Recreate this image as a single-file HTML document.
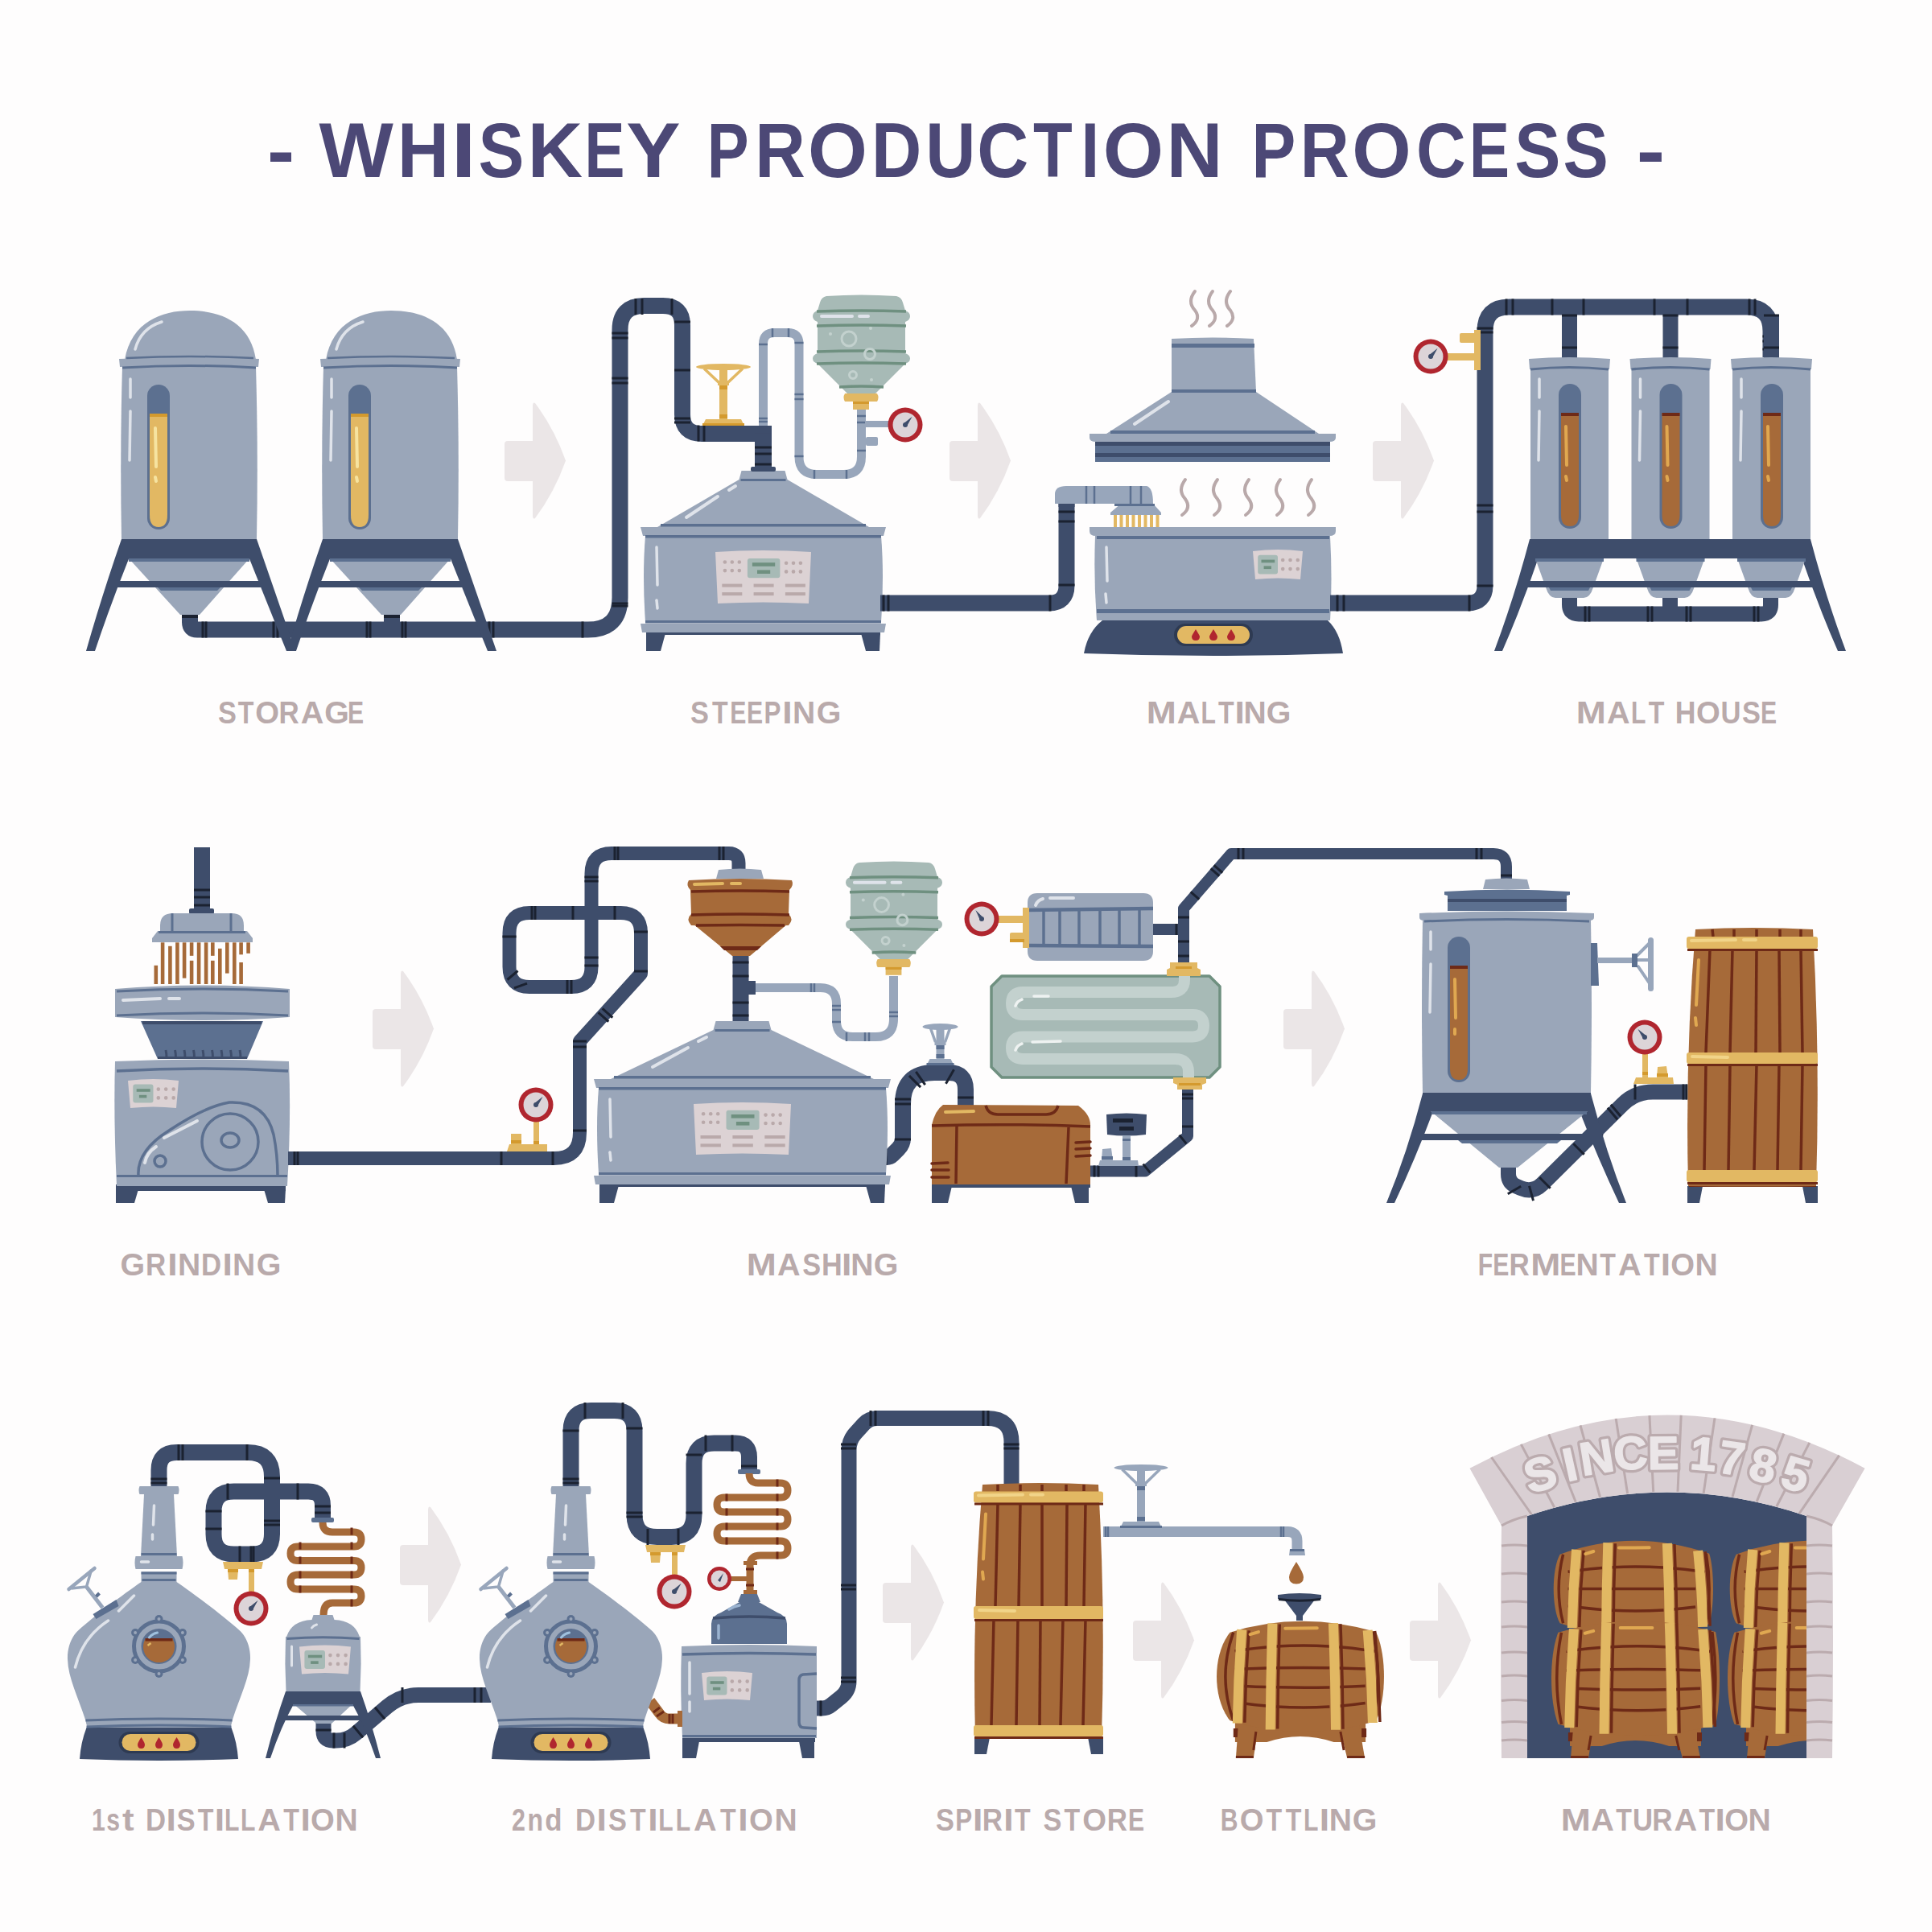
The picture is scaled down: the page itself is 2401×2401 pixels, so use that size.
<!DOCTYPE html><html><head><meta charset="utf-8"><style>
html,body{margin:0;padding:0;background:#fefdfd;}
svg{display:block;font-family:"Liberation Sans",sans-serif;}
</style></head><body>
<svg width="2401" height="2401" viewBox="0 0 2401 2401">
<rect width="2401" height="2401" fill="#fefdfd"/>
<text transform="translate(332.01 220.00) scale(1.067 1)" font-size="95.93" font-weight="bold" fill="#4c4876">-</text>
<text transform="translate(396.40 220.00) scale(1.019 1)" font-size="95.93" font-weight="bold" fill="#4c4876">W</text>
<text transform="translate(494.07 220.00) scale(0.922 1)" font-size="95.93" font-weight="bold" fill="#4c4876">H</text>
<text transform="translate(560.67 220.00) scale(1.150 1)" font-size="95.93" font-weight="bold" fill="#4c4876">I</text>
<text transform="translate(594.53 220.00) scale(0.888 1)" font-size="95.93" font-weight="bold" fill="#4c4876">S</text>
<text transform="translate(655.66 220.00) scale(0.986 1)" font-size="95.93" font-weight="bold" fill="#4c4876">K</text>
<text transform="translate(726.50 220.00) scale(0.780 1)" font-size="95.93" font-weight="bold" fill="#4c4876">E</text>
<text transform="translate(778.28 220.00) scale(1.052 1)" font-size="95.93" font-weight="bold" fill="#4c4876">Y</text>
<text transform="translate(878.79 220.00) scale(0.810 1)" font-size="95.93" font-weight="bold" fill="#4c4876">P</text>
<text transform="translate(938.19 220.00) scale(0.904 1)" font-size="95.93" font-weight="bold" fill="#4c4876">R</text>
<text transform="translate(1004.11 220.00) scale(0.990 1)" font-size="95.93" font-weight="bold" fill="#4c4876">O</text>
<text transform="translate(1083.03 220.00) scale(0.898 1)" font-size="95.93" font-weight="bold" fill="#4c4876">D</text>
<text transform="translate(1150.14 220.00) scale(0.897 1)" font-size="95.93" font-weight="bold" fill="#4c4876">U</text>
<text transform="translate(1214.36 220.00) scale(0.924 1)" font-size="95.93" font-weight="bold" fill="#4c4876">C</text>
<text transform="translate(1284.12 220.00) scale(0.832 1)" font-size="95.93" font-weight="bold" fill="#4c4876">T</text>
<text transform="translate(1343.56 220.00) scale(0.847 1)" font-size="95.93" font-weight="bold" fill="#4c4876">I</text>
<text transform="translate(1370.73 220.00) scale(1.009 1)" font-size="95.93" font-weight="bold" fill="#4c4876">O</text>
<text transform="translate(1449.51 220.00) scale(1.011 1)" font-size="95.93" font-weight="bold" fill="#4c4876">N</text>
<text transform="translate(1555.50 220.00) scale(0.856 1)" font-size="95.93" font-weight="bold" fill="#4c4876">P</text>
<text transform="translate(1615.85 220.00) scale(0.880 1)" font-size="95.93" font-weight="bold" fill="#4c4876">R</text>
<text transform="translate(1680.13 220.00) scale(0.984 1)" font-size="95.93" font-weight="bold" fill="#4c4876">O</text>
<text transform="translate(1760.10 220.00) scale(0.891 1)" font-size="95.93" font-weight="bold" fill="#4c4876">C</text>
<text transform="translate(1826.05 220.00) scale(0.780 1)" font-size="95.93" font-weight="bold" fill="#4c4876">E</text>
<text transform="translate(1882.22 220.00) scale(0.893 1)" font-size="95.93" font-weight="bold" fill="#4c4876">S</text>
<text transform="translate(1942.56 220.00) scale(0.879 1)" font-size="95.93" font-weight="bold" fill="#4c4876">S</text>
<text transform="translate(2033.85 220.00) scale(1.108 1)" font-size="95.93" font-weight="bold" fill="#4c4876">-</text>
<text transform="translate(271.00 898.60) scale(0.888 1)" font-size="38.66" font-weight="bold" fill="#b9aaab">S</text>
<text transform="translate(295.81 898.60) scale(0.832 1)" font-size="38.66" font-weight="bold" fill="#b9aaab">T</text>
<text transform="translate(317.14 898.60) scale(0.990 1)" font-size="38.66" font-weight="bold" fill="#b9aaab">O</text>
<text transform="translate(346.57 898.60) scale(0.904 1)" font-size="38.66" font-weight="bold" fill="#b9aaab">R</text>
<text transform="translate(373.68 898.60) scale(1.025 1)" font-size="38.66" font-weight="bold" fill="#b9aaab">A</text>
<text transform="translate(403.26 898.60) scale(1.019 1)" font-size="38.66" font-weight="bold" fill="#b9aaab">G</text>
<text transform="translate(432.06 898.60) scale(0.780 1)" font-size="38.66" font-weight="bold" fill="#b9aaab">E</text>
<text transform="translate(858.00 898.60) scale(0.888 1)" font-size="38.66" font-weight="bold" fill="#b9aaab">S</text>
<text transform="translate(885.05 898.60) scale(0.832 1)" font-size="38.66" font-weight="bold" fill="#b9aaab">T</text>
<text transform="translate(907.17 898.60) scale(0.780 1)" font-size="38.66" font-weight="bold" fill="#b9aaab">E</text>
<text transform="translate(927.93 898.60) scale(0.780 1)" font-size="38.66" font-weight="bold" fill="#b9aaab">E</text>
<text transform="translate(949.61 898.60) scale(0.811 1)" font-size="38.66" font-weight="bold" fill="#b9aaab">P</text>
<text transform="translate(972.34 898.60) scale(1.150 1)" font-size="38.66" font-weight="bold" fill="#b9aaab">I</text>
<text transform="translate(984.96 898.60) scale(1.011 1)" font-size="38.66" font-weight="bold" fill="#b9aaab">N</text>
<text transform="translate(1014.78 898.60) scale(1.019 1)" font-size="38.66" font-weight="bold" fill="#b9aaab">G</text>
<text transform="translate(1424.71 898.60) scale(1.150 1)" font-size="38.66" font-weight="bold" fill="#b9aaab">M</text>
<text transform="translate(1462.72 898.60) scale(1.025 1)" font-size="38.66" font-weight="bold" fill="#b9aaab">A</text>
<text transform="translate(1492.53 898.60) scale(0.780 1)" font-size="38.66" font-weight="bold" fill="#b9aaab">L</text>
<text transform="translate(1513.91 898.60) scale(0.832 1)" font-size="38.66" font-weight="bold" fill="#b9aaab">T</text>
<text transform="translate(1534.50 898.60) scale(1.150 1)" font-size="38.66" font-weight="bold" fill="#b9aaab">I</text>
<text transform="translate(1545.54 898.60) scale(1.011 1)" font-size="38.66" font-weight="bold" fill="#b9aaab">N</text>
<text transform="translate(1573.78 898.60) scale(1.019 1)" font-size="38.66" font-weight="bold" fill="#b9aaab">G</text>
<text transform="translate(1958.71 898.60) scale(1.150 1)" font-size="38.66" font-weight="bold" fill="#b9aaab">M</text>
<text transform="translate(1996.96 898.60) scale(1.025 1)" font-size="38.66" font-weight="bold" fill="#b9aaab">A</text>
<text transform="translate(2027.01 898.60) scale(0.780 1)" font-size="38.66" font-weight="bold" fill="#b9aaab">L</text>
<text transform="translate(2048.63 898.60) scale(0.832 1)" font-size="38.66" font-weight="bold" fill="#b9aaab">T</text>
<text transform="translate(2081.74 898.60) scale(0.922 1)" font-size="38.66" font-weight="bold" fill="#b9aaab">H</text>
<text transform="translate(2108.02 898.60) scale(0.990 1)" font-size="38.66" font-weight="bold" fill="#b9aaab">O</text>
<text transform="translate(2138.61 898.60) scale(0.896 1)" font-size="38.66" font-weight="bold" fill="#b9aaab">U</text>
<text transform="translate(2165.02 898.60) scale(0.888 1)" font-size="38.66" font-weight="bold" fill="#b9aaab">S</text>
<text transform="translate(2188.06 898.60) scale(0.780 1)" font-size="38.66" font-weight="bold" fill="#b9aaab">E</text>
<text transform="translate(149.38 1584.60) scale(1.019 1)" font-size="38.66" font-weight="bold" fill="#b9aaab">G</text>
<text transform="translate(181.05 1584.60) scale(0.904 1)" font-size="38.66" font-weight="bold" fill="#b9aaab">R</text>
<text transform="translate(208.37 1584.60) scale(1.150 1)" font-size="38.66" font-weight="bold" fill="#b9aaab">I</text>
<text transform="translate(220.94 1584.60) scale(1.011 1)" font-size="38.66" font-weight="bold" fill="#b9aaab">N</text>
<text transform="translate(250.01 1584.60) scale(0.898 1)" font-size="38.66" font-weight="bold" fill="#b9aaab">D</text>
<text transform="translate(276.44 1584.60) scale(1.150 1)" font-size="38.66" font-weight="bold" fill="#b9aaab">I</text>
<text transform="translate(289.01 1584.60) scale(1.011 1)" font-size="38.66" font-weight="bold" fill="#b9aaab">N</text>
<text transform="translate(318.78 1584.60) scale(1.019 1)" font-size="38.66" font-weight="bold" fill="#b9aaab">G</text>
<text transform="translate(927.71 1584.60) scale(1.150 1)" font-size="38.66" font-weight="bold" fill="#b9aaab">M</text>
<text transform="translate(966.03 1584.60) scale(1.025 1)" font-size="38.66" font-weight="bold" fill="#b9aaab">A</text>
<text transform="translate(997.19 1584.60) scale(0.888 1)" font-size="38.66" font-weight="bold" fill="#b9aaab">S</text>
<text transform="translate(1020.93 1584.60) scale(0.922 1)" font-size="38.66" font-weight="bold" fill="#b9aaab">H</text>
<text transform="translate(1045.88 1584.60) scale(1.150 1)" font-size="38.66" font-weight="bold" fill="#b9aaab">I</text>
<text transform="translate(1057.23 1584.60) scale(1.011 1)" font-size="38.66" font-weight="bold" fill="#b9aaab">N</text>
<text transform="translate(1085.78 1584.60) scale(1.019 1)" font-size="38.66" font-weight="bold" fill="#b9aaab">G</text>
<text transform="translate(1836.65 1584.60) scale(0.780 1)" font-size="38.66" font-weight="bold" fill="#b9aaab">F</text>
<text transform="translate(1855.20 1584.60) scale(0.780 1)" font-size="38.66" font-weight="bold" fill="#b9aaab">E</text>
<text transform="translate(1875.38 1584.60) scale(0.904 1)" font-size="38.66" font-weight="bold" fill="#b9aaab">R</text>
<text transform="translate(1902.17 1584.60) scale(1.150 1)" font-size="38.66" font-weight="bold" fill="#b9aaab">M</text>
<text transform="translate(1938.48 1584.60) scale(0.780 1)" font-size="38.66" font-weight="bold" fill="#b9aaab">E</text>
<text transform="translate(1958.39 1584.60) scale(1.011 1)" font-size="38.66" font-weight="bold" fill="#b9aaab">N</text>
<text transform="translate(1988.22 1584.60) scale(0.832 1)" font-size="38.66" font-weight="bold" fill="#b9aaab">T</text>
<text transform="translate(2011.11 1584.60) scale(1.025 1)" font-size="38.66" font-weight="bold" fill="#b9aaab">A</text>
<text transform="translate(2042.93 1584.60) scale(0.832 1)" font-size="38.66" font-weight="bold" fill="#b9aaab">T</text>
<text transform="translate(2063.85 1584.60) scale(1.150 1)" font-size="38.66" font-weight="bold" fill="#b9aaab">I</text>
<text transform="translate(2076.26 1584.60) scale(0.990 1)" font-size="38.66" font-weight="bold" fill="#b9aaab">O</text>
<text transform="translate(2106.40 1584.60) scale(1.011 1)" font-size="38.66" font-weight="bold" fill="#b9aaab">N</text>
<text transform="translate(113.94 2274.60) scale(0.780 1)" font-size="38.66" font-weight="bold" fill="#b9aaab">1</text>
<text transform="translate(132.37 2274.60) scale(0.780 1)" font-size="38.66" font-weight="bold" fill="#b9aaab">s</text>
<text transform="translate(152.09 2274.60) scale(1.136 1)" font-size="38.66" font-weight="bold" fill="#b9aaab">t</text>
<text transform="translate(181.06 2274.60) scale(0.898 1)" font-size="38.66" font-weight="bold" fill="#b9aaab">D</text>
<text transform="translate(206.48 2274.60) scale(1.150 1)" font-size="38.66" font-weight="bold" fill="#b9aaab">I</text>
<text transform="translate(219.66 2274.60) scale(0.888 1)" font-size="38.66" font-weight="bold" fill="#b9aaab">S</text>
<text transform="translate(245.64 2274.60) scale(0.832 1)" font-size="38.66" font-weight="bold" fill="#b9aaab">T</text>
<text transform="translate(266.75 2274.60) scale(1.150 1)" font-size="38.66" font-weight="bold" fill="#b9aaab">I</text>
<text transform="translate(278.88 2274.60) scale(0.780 1)" font-size="38.66" font-weight="bold" fill="#b9aaab">L</text>
<text transform="translate(299.09 2274.60) scale(0.780 1)" font-size="38.66" font-weight="bold" fill="#b9aaab">L</text>
<text transform="translate(320.34 2274.60) scale(1.025 1)" font-size="38.66" font-weight="bold" fill="#b9aaab">A</text>
<text transform="translate(352.36 2274.60) scale(0.832 1)" font-size="38.66" font-weight="bold" fill="#b9aaab">T</text>
<text transform="translate(373.47 2274.60) scale(1.150 1)" font-size="38.66" font-weight="bold" fill="#b9aaab">I</text>
<text transform="translate(386.07 2274.60) scale(0.990 1)" font-size="38.66" font-weight="bold" fill="#b9aaab">O</text>
<text transform="translate(416.40 2274.60) scale(1.011 1)" font-size="38.66" font-weight="bold" fill="#b9aaab">N</text>
<text transform="translate(635.94 2274.60) scale(0.787 1)" font-size="38.66" font-weight="bold" fill="#b9aaab">2</text>
<text transform="translate(655.38 2274.60) scale(0.826 1)" font-size="38.66" font-weight="bold" fill="#b9aaab">n</text>
<text transform="translate(677.35 2274.60) scale(0.901 1)" font-size="38.66" font-weight="bold" fill="#b9aaab">d</text>
<text transform="translate(715.12 2274.60) scale(0.898 1)" font-size="38.66" font-weight="bold" fill="#b9aaab">D</text>
<text transform="translate(741.62 2274.60) scale(1.150 1)" font-size="38.66" font-weight="bold" fill="#b9aaab">I</text>
<text transform="translate(755.89 2274.60) scale(0.888 1)" font-size="38.66" font-weight="bold" fill="#b9aaab">S</text>
<text transform="translate(782.96 2274.60) scale(0.832 1)" font-size="38.66" font-weight="bold" fill="#b9aaab">T</text>
<text transform="translate(805.15 2274.60) scale(1.150 1)" font-size="38.66" font-weight="bold" fill="#b9aaab">I</text>
<text transform="translate(818.37 2274.60) scale(0.780 1)" font-size="38.66" font-weight="bold" fill="#b9aaab">L</text>
<text transform="translate(839.66 2274.60) scale(0.780 1)" font-size="38.66" font-weight="bold" fill="#b9aaab">L</text>
<text transform="translate(862.00 2274.60) scale(1.025 1)" font-size="38.66" font-weight="bold" fill="#b9aaab">A</text>
<text transform="translate(895.10 2274.60) scale(0.832 1)" font-size="38.66" font-weight="bold" fill="#b9aaab">T</text>
<text transform="translate(917.29 2274.60) scale(1.150 1)" font-size="38.66" font-weight="bold" fill="#b9aaab">I</text>
<text transform="translate(930.99 2274.60) scale(0.990 1)" font-size="38.66" font-weight="bold" fill="#b9aaab">O</text>
<text transform="translate(962.40 2274.60) scale(1.011 1)" font-size="38.66" font-weight="bold" fill="#b9aaab">N</text>
<text transform="translate(1163.00 2274.60) scale(0.888 1)" font-size="38.66" font-weight="bold" fill="#b9aaab">S</text>
<text transform="translate(1187.27 2274.60) scale(0.811 1)" font-size="38.66" font-weight="bold" fill="#b9aaab">P</text>
<text transform="translate(1208.95 2274.60) scale(1.150 1)" font-size="38.66" font-weight="bold" fill="#b9aaab">I</text>
<text transform="translate(1220.81 2274.60) scale(0.904 1)" font-size="38.66" font-weight="bold" fill="#b9aaab">R</text>
<text transform="translate(1247.16 2274.60) scale(1.150 1)" font-size="38.66" font-weight="bold" fill="#b9aaab">I</text>
<text transform="translate(1261.01 2274.60) scale(0.832 1)" font-size="38.66" font-weight="bold" fill="#b9aaab">T</text>
<text transform="translate(1296.60 2274.60) scale(0.888 1)" font-size="38.66" font-weight="bold" fill="#b9aaab">S</text>
<text transform="translate(1322.61 2274.60) scale(0.832 1)" font-size="38.66" font-weight="bold" fill="#b9aaab">T</text>
<text transform="translate(1345.14 2274.60) scale(0.990 1)" font-size="38.66" font-weight="bold" fill="#b9aaab">O</text>
<text transform="translate(1375.77 2274.60) scale(0.904 1)" font-size="38.66" font-weight="bold" fill="#b9aaab">R</text>
<text transform="translate(1402.06 2274.60) scale(0.780 1)" font-size="38.66" font-weight="bold" fill="#b9aaab">E</text>
<text transform="translate(1516.83 2274.60) scale(0.780 1)" font-size="38.66" font-weight="bold" fill="#b9aaab">B</text>
<text transform="translate(1540.66 2274.60) scale(0.990 1)" font-size="38.66" font-weight="bold" fill="#b9aaab">O</text>
<text transform="translate(1573.62 2274.60) scale(0.832 1)" font-size="38.66" font-weight="bold" fill="#b9aaab">T</text>
<text transform="translate(1597.70 2274.60) scale(0.832 1)" font-size="38.66" font-weight="bold" fill="#b9aaab">T</text>
<text transform="translate(1620.09 2274.60) scale(0.780 1)" font-size="38.66" font-weight="bold" fill="#b9aaab">L</text>
<text transform="translate(1639.74 2274.60) scale(1.150 1)" font-size="38.66" font-weight="bold" fill="#b9aaab">I</text>
<text transform="translate(1651.66 2274.60) scale(1.011 1)" font-size="38.66" font-weight="bold" fill="#b9aaab">N</text>
<text transform="translate(1680.78 2274.60) scale(1.019 1)" font-size="38.66" font-weight="bold" fill="#b9aaab">G</text>
<text transform="translate(1939.71 2274.60) scale(1.150 1)" font-size="38.66" font-weight="bold" fill="#b9aaab">M</text>
<text transform="translate(1977.18 2274.60) scale(1.025 1)" font-size="38.66" font-weight="bold" fill="#b9aaab">A</text>
<text transform="translate(2008.13 2274.60) scale(0.832 1)" font-size="38.66" font-weight="bold" fill="#b9aaab">T</text>
<text transform="translate(2029.07 2274.60) scale(0.896 1)" font-size="38.66" font-weight="bold" fill="#b9aaab">U</text>
<text transform="translate(2053.35 2274.60) scale(0.904 1)" font-size="38.66" font-weight="bold" fill="#b9aaab">R</text>
<text transform="translate(2080.58 2274.60) scale(1.025 1)" font-size="38.66" font-weight="bold" fill="#b9aaab">A</text>
<text transform="translate(2111.53 2274.60) scale(0.832 1)" font-size="38.66" font-weight="bold" fill="#b9aaab">T</text>
<text transform="translate(2131.58 2274.60) scale(1.150 1)" font-size="38.66" font-weight="bold" fill="#b9aaab">I</text>
<text transform="translate(2143.13 2274.60) scale(0.990 1)" font-size="38.66" font-weight="bold" fill="#b9aaab">O</text>
<text transform="translate(2172.40 2274.60) scale(1.011 1)" font-size="38.66" font-weight="bold" fill="#b9aaab">N</text>
<g transform="translate(627 501)" fill="#ebe6e7">
<rect x="0" y="47" width="45" height="50" rx="4"/>
<path d="M38 0 Q62 32 76 71.5 Q62 111 38 143 Q35 145 35 139 L35 4 Q35 -2 38 0Z"/>
</g>
<g transform="translate(1180 501)" fill="#ebe6e7">
<rect x="0" y="47" width="45" height="50" rx="4"/>
<path d="M38 0 Q62 32 76 71.5 Q62 111 38 143 Q35 145 35 139 L35 4 Q35 -2 38 0Z"/>
</g>
<g transform="translate(1706 501)" fill="#ebe6e7">
<rect x="0" y="47" width="45" height="50" rx="4"/>
<path d="M38 0 Q62 32 76 71.5 Q62 111 38 143 Q35 145 35 139 L35 4 Q35 -2 38 0Z"/>
</g>
<g transform="translate(463 1207)" fill="#ebe6e7">
<rect x="0" y="47" width="45" height="50" rx="4"/>
<path d="M38 0 Q62 32 76 71.5 Q62 111 38 143 Q35 145 35 139 L35 4 Q35 -2 38 0Z"/>
</g>
<g transform="translate(1595 1207)" fill="#ebe6e7">
<rect x="0" y="47" width="45" height="50" rx="4"/>
<path d="M38 0 Q62 32 76 71.5 Q62 111 38 143 Q35 145 35 139 L35 4 Q35 -2 38 0Z"/>
</g>
<g transform="translate(497 1873)" fill="#ebe6e7">
<rect x="0" y="47" width="45" height="50" rx="4"/>
<path d="M38 0 Q62 32 76 71.5 Q62 111 38 143 Q35 145 35 139 L35 4 Q35 -2 38 0Z"/>
</g>
<g transform="translate(1097 1920)" fill="#ebe6e7">
<rect x="0" y="47" width="45" height="50" rx="4"/>
<path d="M38 0 Q62 32 76 71.5 Q62 111 38 143 Q35 145 35 139 L35 4 Q35 -2 38 0Z"/>
</g>
<g transform="translate(1408 1967)" fill="#ebe6e7">
<rect x="0" y="47" width="45" height="50" rx="4"/>
<path d="M38 0 Q62 32 76 71.5 Q62 111 38 143 Q35 145 35 139 L35 4 Q35 -2 38 0Z"/>
</g>
<g transform="translate(1752 1967)" fill="#ebe6e7">
<rect x="0" y="47" width="45" height="50" rx="4"/>
<path d="M38 0 Q62 32 76 71.5 Q62 111 38 143 Q35 145 35 139 L35 4 Q35 -2 38 0Z"/>
</g>
<path d="M236.0 764.0 L236.0 773.2 Q236.0 782.5 245.2 782.5 L730.5 782.5 Q770.5 782.5 770.5 742.5 L770.5 410.0 Q770.5 380.0 800.5 380.0 L824.0 380.0 Q848.0 380.0 848.0 404.0 L848.0 515.0 Q848.0 539.0 872.0 539.0 L959.0 539.0" fill="none" stroke="#3e4d6b" stroke-width="20" stroke-linejoin="round"/>
<line x1="252.0" y1="772.5" x2="252.0" y2="792.5" stroke="#1b2231" stroke-width="3"/>
<line x1="256.0" y1="772.5" x2="256.0" y2="792.5" stroke="#1b2231" stroke-width="3"/>
<line x1="340.0" y1="772.5" x2="340.0" y2="792.5" stroke="#1b2231" stroke-width="3"/>
<line x1="345.0" y1="772.5" x2="345.0" y2="792.5" stroke="#1b2231" stroke-width="3"/>
<line x1="456.0" y1="772.5" x2="456.0" y2="792.5" stroke="#1b2231" stroke-width="3"/>
<line x1="460.0" y1="772.5" x2="460.0" y2="792.5" stroke="#1b2231" stroke-width="3"/>
<line x1="500.0" y1="772.5" x2="500.0" y2="792.5" stroke="#1b2231" stroke-width="3"/>
<line x1="504.0" y1="772.5" x2="504.0" y2="792.5" stroke="#1b2231" stroke-width="3"/>
<line x1="608.0" y1="772.5" x2="608.0" y2="792.5" stroke="#1b2231" stroke-width="3"/>
<line x1="613.0" y1="772.5" x2="613.0" y2="792.5" stroke="#1b2231" stroke-width="3"/>
<line x1="724.0" y1="772.5" x2="724.0" y2="792.5" stroke="#1b2231" stroke-width="3"/>
<line x1="780.5" y1="750.0" x2="760.5" y2="750.0" stroke="#1b2231" stroke-width="3"/>
<line x1="780.5" y1="753.0" x2="760.5" y2="753.0" stroke="#1b2231" stroke-width="3"/>
<line x1="780.5" y1="470.0" x2="760.5" y2="470.0" stroke="#1b2231" stroke-width="3"/>
<line x1="780.5" y1="476.0" x2="760.5" y2="476.0" stroke="#1b2231" stroke-width="3"/>
<line x1="780.5" y1="414.0" x2="760.5" y2="414.0" stroke="#1b2231" stroke-width="3"/>
<line x1="780.5" y1="420.0" x2="760.5" y2="420.0" stroke="#1b2231" stroke-width="3"/>
<line x1="790.0" y1="371.0" x2="790.0" y2="391.0" stroke="#1b2231" stroke-width="3"/>
<line x1="798.0" y1="371.0" x2="798.0" y2="391.0" stroke="#1b2231" stroke-width="3"/>
<line x1="835.0" y1="371.0" x2="835.0" y2="391.0" stroke="#1b2231" stroke-width="3"/>
<line x1="858.0" y1="400.0" x2="838.0" y2="400.0" stroke="#1b2231" stroke-width="3"/>
<line x1="858.0" y1="460.0" x2="838.0" y2="460.0" stroke="#1b2231" stroke-width="3"/>
<line x1="858.0" y1="520.0" x2="838.0" y2="520.0" stroke="#1b2231" stroke-width="3"/>
<line x1="858.0" y1="525.0" x2="838.0" y2="525.0" stroke="#1b2231" stroke-width="3"/>
<line x1="868.0" y1="528.5" x2="868.0" y2="548.5" stroke="#1b2231" stroke-width="3"/>
<line x1="875.0" y1="528.5" x2="875.0" y2="548.5" stroke="#1b2231" stroke-width="3"/>
<path d="M151 670 Q126 742 107 809 L118 809 Q137 752 161 692 Z" fill="#3e4d6b"/>
<path d="M319 670 Q344 742 367 809 L356 809 Q333 752 309 692 Z" fill="#3e4d6b"/>
<path d="M160 694 L310 694 L248 764 L224 764 Z" fill="#9aa6b9"/>
<rect x="160" y="694" width="150" height="4" fill="#5c7090"/>
<path d="M196 730 L274 730 L270 734 L200 734 Z" fill="#5c7090"/>
<rect x="145" y="722" width="180" height="8" fill="#3e4d6b"/>
<rect x="151" y="670" width="168" height="24" fill="#3e4d6b"/>
<path d="M152 455 L318 455 Q321 560 319 670 L151 670 Q149 560 152 455 Z" fill="#9aa6b9"/>
<path d="M155 447 C163 400 201 386 236 386 C273 386 311 400 318 447 Z" fill="#9aa6b9"/>
<path d="M168 434 Q175 408 201 400" fill="none" stroke="#dfe3ea" stroke-width="3.5" stroke-linecap="round"/>
<path d="M148 446 Q236 442 322 446 L321 456 Q236 452 149 456 Z" fill="#9aa6b9"/>
<path d="M157 445 Q236 441 315 445" fill="none" stroke="#5c7090" stroke-width="2.5"/>
<path d="M152 457 Q236 452 318 457" fill="none" stroke="#5c7090" stroke-width="3"/>
<path d="M162 471 L162 494 M162 511 L161 572" stroke="#dfe3ea" stroke-width="3.5" stroke-linecap="round"/>
<rect x="183" y="478" width="28" height="180" rx="14" fill="#5c7090"/>
<path d="M186 514 L208 514 L208 640 Q208 655 197 655 Q186 655 186 640 Z" fill="#e2b863"/>
<rect x="186" y="514" width="22" height="4" fill="#d49a2e"/>
<path d="M193 532 L194 580 M193 593 L194 598" stroke="#f6e3a0" stroke-width="4" stroke-linecap="round"/>
<path d="M401 670 Q376 742 357 809 L368 809 Q387 752 411 692 Z" fill="#3e4d6b"/>
<path d="M569 670 Q594 742 617 809 L606 809 Q583 752 559 692 Z" fill="#3e4d6b"/>
<path d="M410 694 L560 694 L498 764 L474 764 Z" fill="#9aa6b9"/>
<rect x="410" y="694" width="150" height="4" fill="#5c7090"/>
<path d="M446 730 L524 730 L520 734 L450 734 Z" fill="#5c7090"/>
<rect x="395" y="722" width="180" height="8" fill="#3e4d6b"/>
<rect x="401" y="670" width="168" height="24" fill="#3e4d6b"/>
<path d="M402 455 L568 455 Q571 560 569 670 L401 670 Q399 560 402 455 Z" fill="#9aa6b9"/>
<path d="M405 447 C413 400 451 386 486 386 C523 386 561 400 568 447 Z" fill="#9aa6b9"/>
<path d="M418 434 Q425 408 451 400" fill="none" stroke="#dfe3ea" stroke-width="3.5" stroke-linecap="round"/>
<path d="M398 446 Q486 442 572 446 L571 456 Q486 452 399 456 Z" fill="#9aa6b9"/>
<path d="M407 445 Q486 441 565 445" fill="none" stroke="#5c7090" stroke-width="2.5"/>
<path d="M402 457 Q486 452 568 457" fill="none" stroke="#5c7090" stroke-width="3"/>
<path d="M412 471 L412 494 M412 511 L411 572" stroke="#dfe3ea" stroke-width="3.5" stroke-linecap="round"/>
<rect x="433" y="478" width="28" height="180" rx="14" fill="#5c7090"/>
<path d="M436 514 L458 514 L458 640 Q458 655 447 655 Q436 655 436 640 Z" fill="#e2b863"/>
<rect x="436" y="514" width="22" height="4" fill="#d49a2e"/>
<path d="M443 532 L444 580 M443 593 L444 598" stroke="#f6e3a0" stroke-width="4" stroke-linecap="round"/>
<rect x="477" y="764" width="20" height="10" fill="#3e4d6b"/>
<rect x="226" y="764" width="20" height="4" fill="#1b2231"/>
<rect x="477" y="764" width="20" height="4" fill="#1b2231"/>
<path d="M948.5 538.5 L948.5 584.0" fill="none" stroke="#3e4d6b" stroke-width="21" stroke-linejoin="round"/>
<line x1="959.0" y1="556.0" x2="938.0" y2="556.0" stroke="#1b2231" stroke-width="3"/>
<line x1="959.0" y1="564.0" x2="938.0" y2="564.0" stroke="#1b2231" stroke-width="3"/>
<line x1="959.0" y1="577.0" x2="938.0" y2="577.0" stroke="#1b2231" stroke-width="3"/>
<path d="M803.0 787 L827.0 787 L821.0 809 L803.0 809 Z" fill="#3e4d6b"/>
<path d="M1070.0 787 L1094.0 787 L1093.0 809 L1076.0 809 Z" fill="#3e4d6b"/>
<rect x="803.0" y="785" width="291" height="4" fill="#3e4d6b"/>
<path d="M802.0 666 L1095.0 666 Q1099.0 714.0 1095.0 773 L802.0 773 Q798.0 714.0 802.0 666 Z" fill="#9aa6b9"/>
<path d="M796.0 775 L1101.0 775 L1099.0 786 L798.0 786 Z" fill="#9aa6b9"/>
<rect x="802.0" y="771" width="293" height="3.5" fill="#5c7090"/>
<path d="M918.5 596 L978.5 596 L1080.0 655 L817.0 655 Z" fill="#9aa6b9"/>
<rect x="821.0" y="651" width="255" height="3.5" fill="#5c7090"/>
<path d="M921.5 585 L975.5 585 L978.5 596 L918.5 596 Z" fill="#9aa6b9"/>
<rect x="920.5" y="595" width="56" height="3" fill="#5c7090"/>
<path d="M796.0 655 L1101.0 655 L1098.0 666 L799.0 666 Z" fill="#9aa6b9"/>
<rect x="802.0" y="665" width="293" height="3.5" fill="#5c7090"/>
<path d="M816.0 680 L817.0 727" stroke="#dfe3ea" stroke-width="3.5" stroke-linecap="round"/>
<path d="M816.0 746 L817.0 756" stroke="#dfe3ea" stroke-width="3.5" stroke-linecap="round"/>
<path d="M853.0 643 L892.0 617 M906.0 609 L914.0 604" stroke="#dfe3ea" stroke-width="4" stroke-linecap="round"/>
<path d="M889 686 Q948.5 682 1008 686 L1005 750 Q948.5 747 892 750 Z" fill="#dcd2d4"/>
<rect x="928.9" y="693.9" width="40.5" height="24.4" rx="3" fill="#a7bab6"/>
<rect x="934.9" y="699.2" width="28.3" height="4.6" fill="#6f9080"/>
<rect x="941.0" y="708.4" width="16.2" height="4.6" fill="#6f9080"/>
<circle cx="900.9" cy="698.5" r="2.3" fill="#b9a9aa"/>
<circle cx="977.1" cy="699.8" r="2.3" fill="#b9a9aa"/>
<circle cx="900.9" cy="709.1" r="2.3" fill="#b9a9aa"/>
<circle cx="977.1" cy="710.4" r="2.3" fill="#b9a9aa"/>
<circle cx="909.8" cy="698.5" r="2.3" fill="#b9a9aa"/>
<circle cx="986.0" cy="699.8" r="2.3" fill="#b9a9aa"/>
<circle cx="909.8" cy="709.1" r="2.3" fill="#b9a9aa"/>
<circle cx="986.0" cy="710.4" r="2.3" fill="#b9a9aa"/>
<circle cx="918.8" cy="698.5" r="2.3" fill="#b9a9aa"/>
<circle cx="994.9" cy="699.8" r="2.3" fill="#b9a9aa"/>
<circle cx="918.8" cy="709.1" r="2.3" fill="#b9a9aa"/>
<circle cx="994.9" cy="710.4" r="2.3" fill="#b9a9aa"/>
<rect x="897.3" y="725.6" width="25.0" height="4" fill="#b9a9aa"/>
<rect x="897.3" y="736.1" width="25.0" height="4" fill="#b9a9aa"/>
<rect x="936.6" y="725.6" width="25.0" height="4" fill="#b9a9aa"/>
<rect x="936.6" y="736.1" width="25.0" height="4" fill="#b9a9aa"/>
<rect x="975.9" y="725.6" width="25.0" height="4" fill="#b9a9aa"/>
<rect x="975.9" y="736.1" width="25.0" height="4" fill="#b9a9aa"/>
<rect x="933" y="580" width="31" height="6" rx="2" fill="#3e4d6b"/>
<ellipse cx="899" cy="456" rx="34.0" ry="4" fill="#e2b863"/>
<path d="M875.0 458 L893 475 M923.0 458 L905 475" stroke="#e2b863" stroke-width="3.5"/>
<rect x="892" y="473" width="14" height="6" fill="#e2b863"/>
<rect x="894" y="458" width="10" height="69" fill="#e2b863"/>
<rect x="894" y="479" width="10" height="5" fill="#d49a2e"/>
<rect x="894" y="515" width="10" height="5" fill="#d49a2e"/>
<path d="M877.0 521 L921.0 521 L925.0 529 L873.0 529 Z" fill="#e2b863"/>
<rect x="873.0" y="526" width="52" height="3" fill="#d49a2e"/>
<path d="M948.5 531.0 L948.5 427.5 Q948.5 413.5 962.5 413.5 L979.0 413.5 Q993.0 413.5 993.0 427.5 L993.0 567.5 Q993.0 589.5 1015.0 589.5 L1048.5 589.5 Q1070.5 589.5 1070.5 567.5 L1070.5 509.0" fill="none" stroke="#98a6bb" stroke-width="11" stroke-linejoin="round"/>
<line x1="954.0" y1="520.0" x2="943.0" y2="520.0" stroke="#5c7090" stroke-width="2.5"/>
<line x1="954.0" y1="524.0" x2="943.0" y2="524.0" stroke="#5c7090" stroke-width="2.5"/>
<line x1="954.0" y1="428.0" x2="943.0" y2="428.0" stroke="#5c7090" stroke-width="2.5"/>
<line x1="960.0" y1="408.0" x2="960.0" y2="419.0" stroke="#5c7090" stroke-width="2.5"/>
<line x1="980.0" y1="408.0" x2="980.0" y2="419.0" stroke="#5c7090" stroke-width="2.5"/>
<line x1="998.5" y1="426.0" x2="987.5" y2="426.0" stroke="#5c7090" stroke-width="2.5"/>
<line x1="998.5" y1="490.0" x2="987.5" y2="490.0" stroke="#5c7090" stroke-width="2.5"/>
<line x1="998.5" y1="496.0" x2="987.5" y2="496.0" stroke="#5c7090" stroke-width="2.5"/>
<line x1="998.5" y1="567.0" x2="987.5" y2="567.0" stroke="#5c7090" stroke-width="2.5"/>
<line x1="1012.0" y1="584.0" x2="1012.0" y2="595.0" stroke="#5c7090" stroke-width="2.5"/>
<line x1="1052.0" y1="584.0" x2="1052.0" y2="595.0" stroke="#5c7090" stroke-width="2.5"/>
<line x1="1076.0" y1="517.0" x2="1065.0" y2="517.0" stroke="#5c7090" stroke-width="2.5"/>
<line x1="1076.0" y1="525.0" x2="1065.0" y2="525.0" stroke="#5c7090" stroke-width="2.5"/>
<line x1="1076.0" y1="560.0" x2="1065.0" y2="560.0" stroke="#5c7090" stroke-width="2.5"/>
<rect x="938" y="529" width="21" height="5" fill="#3e4d6b"/>
<path d="M1027.0 368.0 Q1070.0 365.0 1114.0 368.0 Q1120.0 369.0 1122.0 376.0 L1125.0 386.0 Q1131.0 388.0 1131.0 393.0 Q1131.0 398.0 1125.0 400.0 L1125.0 439.0 Q1131.0 441.0 1131.0 445.5 Q1131.0 450.0 1125.0 452.0 L1088.0 489.0 L1053.0 489.0 L1016.0 452.0 Q1010.0 450.0 1010.0 445.5 Q1010.0 441.0 1016.0 439.0 L1016.0 400.0 Q1010.0 398.0 1010.0 393.0 Q1010.0 388.0 1016.0 386.0 L1019.0 376.0 Q1021.0 369.0 1027.0 368.0 Z" fill="#a7bab6"/>
<path d="M1015.0 387.0 Q1070.0 385.0 1126.0 387.0" fill="none" stroke="#6f9080" stroke-width="3.5"/>
<path d="M1015.0 405.0 Q1070.0 403.0 1126.0 405.0" fill="none" stroke="#6f9080" stroke-width="3.5"/>
<path d="M1015.0 437.0 Q1070.0 435.0 1126.0 437.0" fill="none" stroke="#6f9080" stroke-width="3.5"/>
<path d="M1015.0 452.0 Q1070.0 450.0 1126.0 452.0" fill="none" stroke="#6f9080" stroke-width="3.5"/>
<path d="M1043.0 481.0 Q1070.0 479.0 1098.0 481.0" fill="none" stroke="#6f9080" stroke-width="3.5"/>
<path d="M1021.0 393.0 L1059.0 393.0 M1068.0 393.0 L1079.0 393.0" stroke="#dfe3ea" stroke-width="4.0" stroke-linecap="round"/>
<circle cx="1055.0" cy="421.0" r="9.0" fill="none" stroke="#c3d1ce" stroke-width="3.0"/>
<circle cx="1081.0" cy="440.0" r="6.5" fill="none" stroke="#c3d1ce" stroke-width="3.0"/>
<circle cx="1060.0" cy="466.0" r="4.5" fill="none" stroke="#c3d1ce" stroke-width="3.0"/>
<circle cx="1032.0" cy="415.0" r="2.0" fill="#c3d1ce"/>
<circle cx="1082.0" cy="408.0" r="2.0" fill="#c3d1ce"/>
<circle cx="1083.0" cy="472.0" r="2.0" fill="#c3d1ce"/>
<path d="M1050.0 489.0 L1090.0 489.0 Q1093.0 494.0 1090.0 499.0 L1050.0 499.0 Q1047.0 494.0 1050.0 489.0 Z" fill="#e2b863"/>
<rect x="1060.0" y="499.0" width="20.0" height="10.0" fill="#e2b863"/>
<rect x="1060.0" y="499.0" width="20.0" height="3.0" fill="#d49a2e"/>
<rect x="1075" y="523" width="30" height="8" fill="#98a6bb"/>
<rect x="1076" y="543" width="15" height="11" rx="2" fill="#98a6bb"/>
<circle cx="1125" cy="528" r="21.5" fill="#b0262f"/>
<circle cx="1125" cy="528" r="15.479999999999999" fill="#dcd4d8"/>
<path d="M1127.0 529.7 L1133.6 517.8 L1123.0 526.3 Z" fill="#3e4d6b"/>
<circle cx="1125" cy="528" r="3" fill="#3e4d6b"/>
<path d="M1325.5 630.0 L1325.5 615.0" fill="none" stroke="#3e4d6b" stroke-width="20" stroke-linejoin="round"/>
<path d="M1311 626 L1311 614 Q1311 604 1325 604 L1425 604 Q1433 606 1433 626 Z" fill="#98a6bb"/>
<path d="M1350 604 L1350 626 M1360 604 L1360 626 M1405 604 L1405 626 M1418 604 L1418 626" stroke="#5c7090" stroke-width="2.5"/>
<path d="M1393 626 L1433 626 L1443 637 L1443 640 L1380 640 L1380 637 Z" fill="#98a6bb"/>
<rect x="1385" y="626" width="50" height="3" fill="#5c7090"/>
<rect x="1384.0" y="640" width="4" height="15" fill="#e2b863"/>
<rect x="1391.5" y="640" width="4" height="15" fill="#e2b863"/>
<rect x="1399.0" y="640" width="4" height="15" fill="#e2b863"/>
<rect x="1406.5" y="640" width="4" height="15" fill="#e2b863"/>
<rect x="1414.0" y="640" width="4" height="15" fill="#e2b863"/>
<rect x="1421.5" y="640" width="4" height="15" fill="#e2b863"/>
<rect x="1429.0" y="640" width="4" height="15" fill="#e2b863"/>
<rect x="1436.5" y="640" width="4" height="15" fill="#e2b863"/>
<path d="M1094.0 749.5 L1303.5 749.5 Q1325.5 749.5 1325.5 727.5 L1325.5 626.0" fill="none" stroke="#3e4d6b" stroke-width="20" stroke-linejoin="round"/>
<line x1="1098.0" y1="739.5" x2="1098.0" y2="759.5" stroke="#1b2231" stroke-width="3"/>
<line x1="1104.0" y1="739.5" x2="1104.0" y2="759.5" stroke="#1b2231" stroke-width="3"/>
<line x1="1305.0" y1="739.5" x2="1305.0" y2="759.5" stroke="#1b2231" stroke-width="3"/>
<line x1="1335.5" y1="636.0" x2="1315.5" y2="636.0" stroke="#1b2231" stroke-width="3"/>
<line x1="1335.5" y1="648.0" x2="1315.5" y2="648.0" stroke="#1b2231" stroke-width="3"/>
<line x1="1335.5" y1="727.0" x2="1315.5" y2="727.0" stroke="#1b2231" stroke-width="3"/>
<path d="M1347 812 Q1352 785 1370 771 L1650 771 Q1665 785 1669 812 Q1508 818 1347 812 Z" fill="#3e4d6b"/>
<rect x="1459" y="775" width="98" height="28" rx="14" fill="#2e3a52"/>
<rect x="1463" y="778" width="90" height="22" rx="11" fill="#e2b863"/>
<path d="M1486 782 Q1481 790 1481 791 Q1481 796 1486 796 Q1491 796 1491 791 Q1491 790 1486 782Z" fill="#b0262f"/>
<path d="M1508 782 Q1503 790 1503 791 Q1503 796 1508 796 Q1513 796 1513 791 Q1513 790 1508 782Z" fill="#b0262f"/>
<path d="M1530 782 Q1525 790 1525 791 Q1525 796 1530 796 Q1535 796 1535 791 Q1535 790 1530 782Z" fill="#b0262f"/>
<path d="M1361 666 L1653 666 Q1656 720 1653 771 L1363 771 Q1359 720 1361 666 Z" fill="#9aa6b9"/>
<rect x="1363" y="757" width="289" height="5" fill="#5c7090"/>
<path d="M1354 655 L1660 655 L1660 660 Q1660 666 1652 666 L1362 666 Q1354 666 1354 660 Z" fill="#9aa6b9"/>
<rect x="1363" y="666" width="289" height="4" fill="#5c7090"/>
<path d="M1375 680 L1376 722 M1374 738 L1375 749" stroke="#dfe3ea" stroke-width="3.5" stroke-linecap="round"/>
<path d="M1557 685 Q1588.0 681 1619 685 L1616 720 Q1588.0 717 1560 720 Z" fill="#dcd2d4"/>
<rect x="1563.2" y="689.7" width="24.8" height="23.7" rx="3" fill="#a7bab6"/>
<rect x="1567.5" y="695.6" width="16.7" height="3.7" fill="#6f9080"/>
<rect x="1570.6" y="703.4" width="9.3" height="3.7" fill="#6f9080"/>
<circle cx="1594.2" cy="696.0" r="2.3" fill="#b9a9aa"/>
<circle cx="1594.2" cy="707.1" r="2.3" fill="#b9a9aa"/>
<circle cx="1603.5" cy="696.0" r="2.3" fill="#b9a9aa"/>
<circle cx="1603.5" cy="707.1" r="2.3" fill="#b9a9aa"/>
<circle cx="1612.8" cy="696.0" r="2.3" fill="#b9a9aa"/>
<circle cx="1612.8" cy="707.1" r="2.3" fill="#b9a9aa"/>
<path d="M1653.0 749.5 L1823.5 749.5 Q1845.5 749.5 1845.5 727.5 L1845.5 411.5 Q1845.5 381.5 1875.5 381.5 L2170.5 381.5 Q2200.5 381.5 2200.5 411.5 L2200.5 444.0" fill="none" stroke="#3e4d6b" stroke-width="20" stroke-linejoin="round"/>
<line x1="1662.0" y1="739.5" x2="1662.0" y2="759.5" stroke="#1b2231" stroke-width="3"/>
<line x1="1670.0" y1="739.5" x2="1670.0" y2="759.5" stroke="#1b2231" stroke-width="3"/>
<line x1="1826.0" y1="739.5" x2="1826.0" y2="759.5" stroke="#1b2231" stroke-width="3"/>
<line x1="1855.5" y1="728.0" x2="1835.5" y2="728.0" stroke="#1b2231" stroke-width="3"/>
<line x1="1855.5" y1="636.0" x2="1835.5" y2="636.0" stroke="#1b2231" stroke-width="3"/>
<line x1="1855.5" y1="628.0" x2="1835.5" y2="628.0" stroke="#1b2231" stroke-width="3"/>
<line x1="1855.5" y1="413.0" x2="1835.5" y2="413.0" stroke="#1b2231" stroke-width="3"/>
<line x1="1855.5" y1="408.0" x2="1835.5" y2="408.0" stroke="#1b2231" stroke-width="3"/>
<line x1="1872.0" y1="371.5" x2="1872.0" y2="391.5" stroke="#1b2231" stroke-width="3"/>
<line x1="1880.0" y1="371.5" x2="1880.0" y2="391.5" stroke="#1b2231" stroke-width="3"/>
<line x1="1929.0" y1="371.5" x2="1929.0" y2="391.5" stroke="#1b2231" stroke-width="3"/>
<line x1="1968.0" y1="371.5" x2="1968.0" y2="391.5" stroke="#1b2231" stroke-width="3"/>
<line x1="2056.0" y1="371.5" x2="2056.0" y2="391.5" stroke="#1b2231" stroke-width="3"/>
<line x1="2097.0" y1="371.5" x2="2097.0" y2="391.5" stroke="#1b2231" stroke-width="3"/>
<line x1="2174.0" y1="371.5" x2="2174.0" y2="391.5" stroke="#1b2231" stroke-width="3"/>
<line x1="2181.0" y1="371.5" x2="2181.0" y2="391.5" stroke="#1b2231" stroke-width="3"/>
<line x1="2210.5" y1="418.0" x2="2190.5" y2="418.0" stroke="#1b2231" stroke-width="3"/>
<line x1="2210.5" y1="424.0" x2="2190.5" y2="424.0" stroke="#1b2231" stroke-width="3"/>
<line x1="2210.5" y1="434.0" x2="2190.5" y2="434.0" stroke="#1b2231" stroke-width="3"/>
<path d="M1456 421 Q1507 418 1558 421 L1561 487 L1456 487 Z" fill="#9aa6b9"/>
<rect x="1456" y="427" width="103" height="5" fill="#5c7090"/>
<path d="M1456 487 L1561 487 L1639 539 L1375 539 Z" fill="#9aa6b9"/>
<rect x="1456" y="484" width="105" height="4" fill="#5c7090"/>
<rect x="1380" y="535" width="254" height="4" fill="#5c7090"/>
<path d="M1410 527 L1452 499" stroke="#dfe3ea" stroke-width="4" stroke-linecap="round"/>
<path d="M1354 539 L1660 539 L1660 544 Q1660 549 1652 549 L1362 549 Q1354 549 1354 544 Z" fill="#9aa6b9"/>
<rect x="1361" y="549" width="292" height="25" fill="#5c7090"/>
<rect x="1361" y="549" width="292" height="5" fill="#3e4d6b"/>
<rect x="1361" y="563" width="292" height="5" fill="#3e4d6b"/>
<path d="M1485 362 Q1475 374.9 1485 385.65 Q1493 396.4 1481 405" fill="none" stroke="#b9a9aa" stroke-width="4" stroke-linecap="round"/>
<path d="M1507 362 Q1497 374.9 1507 385.65 Q1515 396.4 1503 405" fill="none" stroke="#b9a9aa" stroke-width="4" stroke-linecap="round"/>
<path d="M1529 362 Q1519 374.9 1529 385.65 Q1537 396.4 1525 405" fill="none" stroke="#b9a9aa" stroke-width="4" stroke-linecap="round"/>
<path d="M1473 596 Q1463 609.2 1473 620.2 Q1481 631.2 1469 640" fill="none" stroke="#b9a9aa" stroke-width="4" stroke-linecap="round"/>
<path d="M1513 596 Q1503 609.2 1513 620.2 Q1521 631.2 1509 640" fill="none" stroke="#b9a9aa" stroke-width="4" stroke-linecap="round"/>
<path d="M1552 596 Q1542 609.2 1552 620.2 Q1560 631.2 1548 640" fill="none" stroke="#b9a9aa" stroke-width="4" stroke-linecap="round"/>
<path d="M1591 596 Q1581 609.2 1591 620.2 Q1599 631.2 1587 640" fill="none" stroke="#b9a9aa" stroke-width="4" stroke-linecap="round"/>
<path d="M1630 596 Q1620 609.2 1630 620.2 Q1638 631.2 1626 640" fill="none" stroke="#b9a9aa" stroke-width="4" stroke-linecap="round"/>
<path d="M1950.5 391.0 L1950.5 445.0" fill="none" stroke="#3e4d6b" stroke-width="19" stroke-linejoin="round"/>
<line x1="1960.0" y1="392.0" x2="1941.0" y2="392.0" stroke="#1b2231" stroke-width="3"/>
<line x1="1960.0" y1="432.0" x2="1941.0" y2="432.0" stroke="#1b2231" stroke-width="3"/>
<path d="M2076.0 391.0 L2076.0 445.0" fill="none" stroke="#3e4d6b" stroke-width="19" stroke-linejoin="round"/>
<line x1="2085.5" y1="392.0" x2="2066.5" y2="392.0" stroke="#1b2231" stroke-width="3"/>
<line x1="2085.5" y1="432.0" x2="2066.5" y2="432.0" stroke="#1b2231" stroke-width="3"/>
<path d="M2201.5 391.0 L2201.5 445.0" fill="none" stroke="#3e4d6b" stroke-width="19" stroke-linejoin="round"/>
<line x1="2211.0" y1="392.0" x2="2192.0" y2="392.0" stroke="#1b2231" stroke-width="3"/>
<line x1="2211.0" y1="432.0" x2="2192.0" y2="432.0" stroke="#1b2231" stroke-width="3"/>
<path d="M1901 670 Q1882 742 1857 809 L1867 809 Q1892 752 1913 690 Z" fill="#3e4d6b"/>
<path d="M2250 670 Q2269 742 2294 809 L2284 809 Q2259 752 2238 690 Z" fill="#3e4d6b"/>
<path d="M1950.5 740.0 L1950.5 751.5 Q1950.5 763.0 1962.0 763.0 L2189.0 763.0 Q2200.5 763.0 2200.5 751.5 L2200.5 740.0" fill="none" stroke="#3e4d6b" stroke-width="19" stroke-linejoin="round"/>
<line x1="1970.0" y1="753.5" x2="1970.0" y2="772.5" stroke="#1b2231" stroke-width="3"/>
<line x1="1975.0" y1="753.5" x2="1975.0" y2="772.5" stroke="#1b2231" stroke-width="3"/>
<line x1="2048.0" y1="753.5" x2="2048.0" y2="772.5" stroke="#1b2231" stroke-width="3"/>
<line x1="2053.0" y1="753.5" x2="2053.0" y2="772.5" stroke="#1b2231" stroke-width="3"/>
<line x1="2096.0" y1="753.5" x2="2096.0" y2="772.5" stroke="#1b2231" stroke-width="3"/>
<line x1="2101.0" y1="753.5" x2="2101.0" y2="772.5" stroke="#1b2231" stroke-width="3"/>
<line x1="2180.0" y1="753.5" x2="2180.0" y2="772.5" stroke="#1b2231" stroke-width="3"/>
<line x1="2185.0" y1="753.5" x2="2185.0" y2="772.5" stroke="#1b2231" stroke-width="3"/>
<path d="M2075.5 740.0 L2075.5 763.0" fill="none" stroke="#3e4d6b" stroke-width="19" stroke-linejoin="round"/>
<path d="M1908.0 694 L1993.0 694 L1980.0 730 Q1976.0 743 1968.0 743 L1933.0 743 Q1925.0 743 1921.0 730 Z" fill="#9aa6b9"/>
<rect x="1908.0" y="694" width="85" height="4" fill="#5c7090"/>
<path d="M1925.0 730 L1976.0 730 L1974.0 734 L1927.0 734 Z" fill="#5c7090"/>
<path d="M2033.5 694 L2118.5 694 L2105.5 730 Q2101.5 743 2093.5 743 L2058.5 743 Q2050.5 743 2046.5 730 Z" fill="#9aa6b9"/>
<rect x="2033.5" y="694" width="85" height="4" fill="#5c7090"/>
<path d="M2050.5 730 L2101.5 730 L2099.5 734 L2052.5 734 Z" fill="#5c7090"/>
<path d="M2159.0 694 L2244.0 694 L2231.0 730 Q2227.0 743 2219.0 743 L2184.0 743 Q2176.0 743 2172.0 730 Z" fill="#9aa6b9"/>
<rect x="2159.0" y="694" width="85" height="4" fill="#5c7090"/>
<path d="M2176.0 730 L2227.0 730 L2225.0 734 L2178.0 734 Z" fill="#5c7090"/>
<rect x="1896" y="722" width="357" height="8" fill="#3e4d6b"/>
<rect x="1901" y="670" width="349" height="24" fill="#3e4d6b"/>
<path d="M1902.0 459 L1999.0 459 L1999.0 670 L1902.0 670 Z" fill="#9aa6b9"/>
<path d="M1900.0 446 Q1950.0 442 2001.0 446 L2000.0 459 L1901.0 459 Z" fill="#9aa6b9"/>
<path d="M1902.0 459 Q1950.0 454 1999.0 459" fill="none" stroke="#5c7090" stroke-width="3"/>
<path d="M1913.0 471 L1913.0 494 M1913.0 511 L1912.0 572" stroke="#dfe3ea" stroke-width="3.5" stroke-linecap="round"/>
<rect x="1937.0" y="477" width="28" height="180" rx="14" fill="#5c7090"/>
<path d="M1940.0 513 L1962.0 513 L1962.0 640 Q1962.0 654 1951.0 654 Q1940.0 654 1940.0 640 Z" fill="#a66a39"/>
<rect x="1940.0" y="513" width="22" height="4" fill="#6e2a17"/>
<path d="M1946.0 530 L1947.0 578 M1946.0 592 L1947.0 597" stroke="#e0a851" stroke-width="4" stroke-linecap="round"/>
<path d="M2027.5 459 L2124.5 459 L2124.5 670 L2027.5 670 Z" fill="#9aa6b9"/>
<path d="M2025.5 446 Q2075.5 442 2126.5 446 L2125.5 459 L2026.5 459 Z" fill="#9aa6b9"/>
<path d="M2027.5 459 Q2075.5 454 2124.5 459" fill="none" stroke="#5c7090" stroke-width="3"/>
<path d="M2038.5 471 L2038.5 494 M2038.5 511 L2037.5 572" stroke="#dfe3ea" stroke-width="3.5" stroke-linecap="round"/>
<rect x="2062.5" y="477" width="28" height="180" rx="14" fill="#5c7090"/>
<path d="M2065.5 513 L2087.5 513 L2087.5 640 Q2087.5 654 2076.5 654 Q2065.5 654 2065.5 640 Z" fill="#a66a39"/>
<rect x="2065.5" y="513" width="22" height="4" fill="#6e2a17"/>
<path d="M2071.5 530 L2072.5 578 M2071.5 592 L2072.5 597" stroke="#e0a851" stroke-width="4" stroke-linecap="round"/>
<path d="M2153.0 459 L2250.0 459 L2250.0 670 L2153.0 670 Z" fill="#9aa6b9"/>
<path d="M2151.0 446 Q2201.0 442 2252.0 446 L2251.0 459 L2152.0 459 Z" fill="#9aa6b9"/>
<path d="M2153.0 459 Q2201.0 454 2250.0 459" fill="none" stroke="#5c7090" stroke-width="3"/>
<path d="M2164.0 471 L2164.0 494 M2164.0 511 L2163.0 572" stroke="#dfe3ea" stroke-width="3.5" stroke-linecap="round"/>
<rect x="2188.0" y="477" width="28" height="180" rx="14" fill="#5c7090"/>
<path d="M2191.0 513 L2213.0 513 L2213.0 640 Q2213.0 654 2202.0 654 Q2191.0 654 2191.0 640 Z" fill="#a66a39"/>
<rect x="2191.0" y="513" width="22" height="4" fill="#6e2a17"/>
<path d="M2197.0 530 L2198.0 578 M2197.0 592 L2198.0 597" stroke="#e0a851" stroke-width="4" stroke-linecap="round"/>
<rect x="1832" y="410" width="8" height="50" fill="#e2b863"/>
<rect x="1814" y="414" width="20" height="12" rx="2" fill="#e2b863"/>
<rect x="1795" y="439" width="40" height="9" fill="#e2b863"/>
<circle cx="1778" cy="443" r="21.5" fill="#b0262f"/>
<circle cx="1778" cy="443" r="15.479999999999999" fill="#dcd4d8"/>
<path d="M1780.0 444.7 L1786.6 432.8 L1776.0 441.3 Z" fill="#3e4d6b"/>
<circle cx="1778" cy="443" r="3" fill="#3e4d6b"/>
<path d="M251.0 1053.0 L251.0 1132.0" fill="none" stroke="#3e4d6b" stroke-width="20" stroke-linejoin="round"/>
<line x1="261.0" y1="1106.0" x2="241.0" y2="1106.0" stroke="#1b2231" stroke-width="3"/>
<line x1="261.0" y1="1115.0" x2="241.0" y2="1115.0" stroke="#1b2231" stroke-width="3"/>
<line x1="261.0" y1="1125.0" x2="241.0" y2="1125.0" stroke="#1b2231" stroke-width="3"/>
<rect x="235" y="1129" width="31" height="7" rx="2" fill="#3e4d6b"/>
<path d="M199 1157 L199 1150 Q199 1135 215 1135 L288 1135 Q303 1135 303 1150 L303 1157 Z" fill="#9aa6b9"/>
<path d="M214 1135 L214 1157 M287 1135 L287 1157" stroke="#5c7090" stroke-width="3"/>
<path d="M196 1157 L307 1157 L314 1166 L314 1171 L189 1171 L189 1166 Z" fill="#9aa6b9"/>
<rect x="197" y="1157" width="108" height="3" fill="#5c7090"/>
<rect x="191.5" y="1199.8" width="4.6" height="23.2" fill="#a66a39"/>
<rect x="199.8" y="1171.3" width="4.6" height="51.7" fill="#a66a39"/>
<rect x="209.1" y="1175.8" width="4.6" height="47.2" fill="#a66a39"/>
<rect x="218.1" y="1171.3" width="4.6" height="51.7" fill="#a66a39"/>
<rect x="226.8" y="1171.3" width="4.6" height="44.3" fill="#a66a39"/>
<rect x="235.8" y="1171.3" width="4.6" height="16.5" fill="#a66a39"/>
<rect x="235.8" y="1193.8" width="4.6" height="29.2" fill="#a66a39"/>
<rect x="244.8" y="1171.3" width="4.6" height="51.7" fill="#a66a39"/>
<rect x="253.8" y="1171.3" width="4.6" height="51.7" fill="#a66a39"/>
<rect x="262.0" y="1171.3" width="4.6" height="16.5" fill="#a66a39"/>
<rect x="262.0" y="1193.8" width="4.6" height="29.2" fill="#a66a39"/>
<rect x="271.0" y="1178.8" width="4.6" height="44.2" fill="#a66a39"/>
<rect x="280.0" y="1171.3" width="4.6" height="38.3" fill="#a66a39"/>
<rect x="289.0" y="1171.3" width="4.6" height="51.7" fill="#a66a39"/>
<rect x="297.3" y="1171.3" width="4.6" height="15.0" fill="#a66a39"/>
<rect x="297.3" y="1196.0" width="4.6" height="27.0" fill="#a66a39"/>
<rect x="306.3" y="1171.3" width="4.6" height="13.5" fill="#a66a39"/>
<path d="M143 1229 Q251 1220 360 1229 L360 1264 Q251 1272 143 1264 Z" fill="#9aa6b9"/>
<path d="M145 1232 Q251 1226 358 1232 M145 1262 Q251 1256 358 1262" fill="none" stroke="#5c7090" stroke-width="3"/>
<path d="M153 1243 L199 1241 M210 1241 L223 1241" stroke="#dfe3ea" stroke-width="4" stroke-linecap="round"/>
<path d="M175 1269 L327 1269 L307 1316 L196 1316 Z" fill="#5c7090"/>
<rect x="177" y="1269" width="148" height="4" fill="#3e4d6b"/>
<path d="M206.0 1305 Q207.0 1309 207.0 1315" stroke="#3e4d6b" stroke-width="3" fill="none"/>
<path d="M217.5 1305 Q218.5 1309 218.5 1315" stroke="#3e4d6b" stroke-width="3" fill="none"/>
<path d="M229.0 1305 Q230.0 1309 230.0 1315" stroke="#3e4d6b" stroke-width="3" fill="none"/>
<path d="M240.5 1305 Q241.5 1309 241.5 1315" stroke="#3e4d6b" stroke-width="3" fill="none"/>
<path d="M252.0 1305 Q253.0 1309 253.0 1315" stroke="#3e4d6b" stroke-width="3" fill="none"/>
<path d="M263.5 1305 Q264.5 1309 264.5 1315" stroke="#3e4d6b" stroke-width="3" fill="none"/>
<path d="M275.0 1305 Q276.0 1309 276.0 1315" stroke="#3e4d6b" stroke-width="3" fill="none"/>
<path d="M286.5 1305 Q287.5 1309 287.5 1315" stroke="#3e4d6b" stroke-width="3" fill="none"/>
<path d="M298.0 1305 Q299.0 1309 299.0 1315" stroke="#3e4d6b" stroke-width="3" fill="none"/>
<rect x="196" y="1313" width="111" height="3" fill="#3e4d6b"/>
<path d="M144 1478 L172 1478 L167 1495 L144 1495 Z" fill="#3e4d6b"/>
<path d="M328 1478 L355 1478 L354 1495 L333 1495 Z" fill="#3e4d6b"/>
<rect x="144" y="1472" width="211" height="8" fill="#3e4d6b"/>
<path d="M143 1319 Q251 1314 359 1319 Q362 1390 357 1474 L145 1474 Q141 1390 143 1319 Z" fill="#9aa6b9"/>
<path d="M145 1331 Q251 1325 358 1331" fill="none" stroke="#5c7090" stroke-width="3.5"/>
<rect x="145" y="1460" width="212" height="3" fill="#5c7090"/>
<path d="M159 1343 Q190.5 1339 222 1343 L219 1377 Q190.5 1374 162 1377 Z" fill="#dcd2d4"/>
<rect x="165.3" y="1347.5" width="25.2" height="23.0" rx="3" fill="#a7bab6"/>
<rect x="169.7" y="1353.2" width="17.0" height="3.6" fill="#6f9080"/>
<rect x="172.9" y="1360.8" width="9.4" height="3.6" fill="#6f9080"/>
<circle cx="196.8" cy="1353.6" r="2.3" fill="#b9a9aa"/>
<circle cx="196.8" cy="1364.4" r="2.3" fill="#b9a9aa"/>
<circle cx="206.2" cy="1353.6" r="2.3" fill="#b9a9aa"/>
<circle cx="206.2" cy="1364.4" r="2.3" fill="#b9a9aa"/>
<circle cx="215.7" cy="1353.6" r="2.3" fill="#b9a9aa"/>
<circle cx="215.7" cy="1364.4" r="2.3" fill="#b9a9aa"/>
<path d="M172 1461 Q170 1430 210 1405 Q255 1375 285 1370 Q330 1368 340 1410 Q345 1435 345 1461" fill="none" stroke="#5c7090" stroke-width="3.5"/>
<circle cx="286" cy="1419" r="35" fill="none" stroke="#5c7090" stroke-width="3.5"/>
<ellipse cx="286" cy="1417" rx="11" ry="9" fill="none" stroke="#5c7090" stroke-width="3.5"/>
<circle cx="199" cy="1443" r="7" fill="none" stroke="#5c7090" stroke-width="3.5"/>
<path d="M204 1414 L245 1393 M180 1445 Q182 1433 194 1425" fill="none" stroke="#dfe3ea" stroke-width="4" stroke-linecap="round"/>
<path d="M358.0 1439.5 L688.5 1439.5 Q720.5 1439.5 720.5 1407.5 L720.5 1294.0 Q720.5 1294.0 720.5 1294.0 L796.5 1210.0 Q796.5 1210.0 796.5 1210.0 L796.5 1159.5 Q796.5 1134.5 771.5 1134.5 L658.0 1134.5 Q633.0 1134.5 633.0 1159.5 L633.0 1201.5 Q633.0 1226.5 658.0 1226.5 L710.0 1226.5 Q735.0 1226.5 735.0 1201.5 L735.0 1085.5 Q735.0 1060.5 760.0 1060.5 L905.8 1060.5 Q918.0 1060.5 918.0 1072.8 L918.0 1085.0" fill="none" stroke="#3e4d6b" stroke-width="17" stroke-linejoin="round"/>
<line x1="366.0" y1="1431.0" x2="366.0" y2="1448.0" stroke="#1b2231" stroke-width="3"/>
<line x1="370.0" y1="1431.0" x2="370.0" y2="1448.0" stroke="#1b2231" stroke-width="3"/>
<line x1="623.0" y1="1431.0" x2="623.0" y2="1448.0" stroke="#1b2231" stroke-width="3"/>
<line x1="687.0" y1="1431.0" x2="687.0" y2="1448.0" stroke="#1b2231" stroke-width="3"/>
<line x1="729.0" y1="1405.0" x2="712.0" y2="1405.0" stroke="#1b2231" stroke-width="3"/>
<line x1="729.0" y1="1294.0" x2="712.0" y2="1294.0" stroke="#1b2231" stroke-width="3"/>
<line x1="729.0" y1="1301.0" x2="712.0" y2="1301.0" stroke="#1b2231" stroke-width="3"/>
<line x1="743.7" y1="1258.3" x2="756.3" y2="1269.7" stroke="#1b2231" stroke-width="3"/>
<line x1="748.7" y1="1253.3" x2="761.3" y2="1264.7" stroke="#1b2231" stroke-width="3"/>
<line x1="805.0" y1="1207.0" x2="788.0" y2="1207.0" stroke="#1b2231" stroke-width="3"/>
<line x1="805.0" y1="1158.0" x2="788.0" y2="1158.0" stroke="#1b2231" stroke-width="3"/>
<line x1="712.0" y1="1126.0" x2="712.0" y2="1143.0" stroke="#1b2231" stroke-width="3"/>
<line x1="764.0" y1="1126.0" x2="764.0" y2="1143.0" stroke="#1b2231" stroke-width="3"/>
<line x1="661.0" y1="1126.0" x2="661.0" y2="1143.0" stroke="#1b2231" stroke-width="3"/>
<line x1="665.0" y1="1126.0" x2="665.0" y2="1143.0" stroke="#1b2231" stroke-width="3"/>
<line x1="641.5" y1="1164.0" x2="624.5" y2="1164.0" stroke="#1b2231" stroke-width="3"/>
<line x1="643.5" y1="1206.5" x2="630.5" y2="1217.5" stroke="#1b2231" stroke-width="3"/>
<line x1="655.0" y1="1222.1" x2="639.0" y2="1227.9" stroke="#1b2231" stroke-width="3"/>
<line x1="705.0" y1="1218.0" x2="705.0" y2="1235.0" stroke="#1b2231" stroke-width="3"/>
<line x1="710.0" y1="1218.0" x2="710.0" y2="1235.0" stroke="#1b2231" stroke-width="3"/>
<line x1="743.5" y1="1190.0" x2="726.5" y2="1190.0" stroke="#1b2231" stroke-width="3"/>
<line x1="743.5" y1="1200.0" x2="726.5" y2="1200.0" stroke="#1b2231" stroke-width="3"/>
<line x1="743.5" y1="1090.0" x2="726.5" y2="1090.0" stroke="#1b2231" stroke-width="3"/>
<line x1="743.5" y1="1095.0" x2="726.5" y2="1095.0" stroke="#1b2231" stroke-width="3"/>
<line x1="764.0" y1="1052.0" x2="764.0" y2="1069.0" stroke="#1b2231" stroke-width="3"/>
<line x1="768.0" y1="1052.0" x2="768.0" y2="1069.0" stroke="#1b2231" stroke-width="3"/>
<line x1="894.0" y1="1052.0" x2="894.0" y2="1069.0" stroke="#1b2231" stroke-width="3"/>
<line x1="899.0" y1="1052.0" x2="899.0" y2="1069.0" stroke="#1b2231" stroke-width="3"/>
<path d="M630 1431 L633 1422 L680 1422 L680 1431 Z" fill="#e2b863"/>
<rect x="635" y="1409" width="13" height="14" fill="#e2b863"/>
<rect x="635" y="1417" width="13" height="4" fill="#d49a2e"/>
<rect x="663" y="1390" width="7" height="33" fill="#e2b863"/>
<rect x="663" y="1418" width="7" height="4" fill="#d49a2e"/>
<circle cx="666" cy="1373" r="21.5" fill="#b0262f"/>
<circle cx="666" cy="1373" r="15.479999999999999" fill="#dcd4d8"/>
<path d="M668.0 1374.7 L674.6 1362.8 L664.0 1371.3 Z" fill="#3e4d6b"/>
<circle cx="666" cy="1373" r="3" fill="#3e4d6b"/>
<path d="M920.5 1186.0 L920.5 1272.0" fill="none" stroke="#3e4d6b" stroke-width="20" stroke-linejoin="round"/>
<line x1="930.5" y1="1196.0" x2="910.5" y2="1196.0" stroke="#1b2231" stroke-width="3"/>
<line x1="930.5" y1="1213.0" x2="910.5" y2="1213.0" stroke="#1b2231" stroke-width="3"/>
<line x1="930.5" y1="1246.0" x2="910.5" y2="1246.0" stroke="#1b2231" stroke-width="3"/>
<line x1="930.5" y1="1262.0" x2="910.5" y2="1262.0" stroke="#1b2231" stroke-width="3"/>
<path d="M890 1092 L893 1081 Q920 1078 946 1081 L949 1092 Z" fill="#9aa6b9"/>
<path d="M861 1148 L979 1148 L932 1188 L910 1188 Z" fill="#a66a39"/>
<path d="M895 1176 L946 1176 L941 1181 L900 1181 Z" fill="#6e2a17"/>
<path d="M856 1094 Q920 1090 984 1094 Q987 1100 981 1106 L980 1136 Q987 1142 980 1150 Q920 1152 859 1150 Q852 1142 859 1136 L858 1106 Q852 1100 856 1094 Z" fill="#a66a39"/>
<path d="M859 1108 Q920 1106 981 1108 M859 1137 Q920 1135 981 1137 M865 1150 Q920 1149 975 1150" fill="none" stroke="#6e2a17" stroke-width="3.5"/>
<path d="M863 1099 L898 1098 M909 1098 L920 1098" stroke="#e2b863" stroke-width="4" stroke-linecap="round"/>
<path d="M931.0 1227.5 L1019.5 1227.5 Q1039.5 1227.5 1039.5 1247.5 L1039.5 1268.5 Q1039.5 1288.5 1059.5 1288.5 L1088.5 1288.5 Q1110.5 1288.5 1110.5 1266.5 L1110.5 1213.0" fill="none" stroke="#98a6bb" stroke-width="11" stroke-linejoin="round"/>
<line x1="1008.0" y1="1222.0" x2="1008.0" y2="1233.0" stroke="#5c7090" stroke-width="2.5"/>
<line x1="1012.0" y1="1222.0" x2="1012.0" y2="1233.0" stroke="#5c7090" stroke-width="2.5"/>
<line x1="1045.0" y1="1250.0" x2="1034.0" y2="1250.0" stroke="#5c7090" stroke-width="2.5"/>
<line x1="1045.0" y1="1255.0" x2="1034.0" y2="1255.0" stroke="#5c7090" stroke-width="2.5"/>
<line x1="1045.0" y1="1270.0" x2="1034.0" y2="1270.0" stroke="#5c7090" stroke-width="2.5"/>
<line x1="1052.0" y1="1283.0" x2="1052.0" y2="1294.0" stroke="#5c7090" stroke-width="2.5"/>
<line x1="1075.0" y1="1283.0" x2="1075.0" y2="1294.0" stroke="#5c7090" stroke-width="2.5"/>
<line x1="1080.0" y1="1283.0" x2="1080.0" y2="1294.0" stroke="#5c7090" stroke-width="2.5"/>
<line x1="1116.0" y1="1263.0" x2="1105.0" y2="1263.0" stroke="#5c7090" stroke-width="2.5"/>
<line x1="1116.0" y1="1258.0" x2="1105.0" y2="1258.0" stroke="#5c7090" stroke-width="2.5"/>
<rect x="929" y="1219" width="10" height="17" fill="#3e4d6b"/>
<path d="M1067.9 1072.0 Q1110.5 1069.0 1154.1 1072.0 Q1160.1 1073.0 1162.1 1079.9 L1165.0 1089.8 Q1171.0 1091.8 1171.0 1096.8 Q1171.0 1101.7 1165.0 1103.7 L1165.0 1142.4 Q1171.0 1144.4 1171.0 1148.8 Q1171.0 1153.3 1165.0 1155.3 L1128.3 1191.9 L1093.7 1191.9 L1057.0 1155.3 Q1051.0 1153.3 1051.0 1148.8 Q1051.0 1144.4 1057.0 1142.4 L1057.0 1103.7 Q1051.0 1101.7 1051.0 1096.8 Q1051.0 1091.8 1057.0 1089.8 L1059.9 1079.9 Q1061.9 1073.0 1067.9 1072.0 Z" fill="#a7bab6"/>
<path d="M1056.0 1090.8 Q1110.5 1088.9 1166.0 1090.8" fill="none" stroke="#6f9080" stroke-width="3.5"/>
<path d="M1056.0 1108.7 Q1110.5 1106.7 1166.0 1108.7" fill="none" stroke="#6f9080" stroke-width="3.5"/>
<path d="M1056.0 1140.4 Q1110.5 1138.4 1166.0 1140.4" fill="none" stroke="#6f9080" stroke-width="3.5"/>
<path d="M1056.0 1155.3 Q1110.5 1153.3 1166.0 1155.3" fill="none" stroke="#6f9080" stroke-width="3.5"/>
<path d="M1083.7 1184.0 Q1110.5 1182.0 1138.3 1184.0" fill="none" stroke="#6f9080" stroke-width="3.5"/>
<path d="M1061.9 1096.8 L1099.6 1096.8 M1108.5 1096.8 L1119.4 1096.8" stroke="#dfe3ea" stroke-width="4.0" stroke-linecap="round"/>
<circle cx="1095.6" cy="1124.5" r="8.9" fill="none" stroke="#c3d1ce" stroke-width="3.0"/>
<circle cx="1121.4" cy="1143.4" r="6.4" fill="none" stroke="#c3d1ce" stroke-width="3.0"/>
<circle cx="1100.6" cy="1169.1" r="4.5" fill="none" stroke="#c3d1ce" stroke-width="3.0"/>
<circle cx="1072.8" cy="1118.6" r="2.0" fill="#c3d1ce"/>
<circle cx="1122.4" cy="1111.7" r="2.0" fill="#c3d1ce"/>
<circle cx="1123.4" cy="1175.1" r="2.0" fill="#c3d1ce"/>
<path d="M1090.7 1191.9 L1130.3 1191.9 Q1133.3 1196.9 1130.3 1201.9 L1090.7 1201.9 Q1087.7 1196.9 1090.7 1191.9 Z" fill="#e2b863"/>
<rect x="1100.6" y="1201.9" width="19.8" height="9.9" fill="#e2b863"/>
<rect x="1100.6" y="1201.9" width="19.8" height="3.0" fill="#d49a2e"/>
<path d="M1098.0 1438.0 L1102.0 1438.0 Q1106.0 1438.0 1108.8 1435.2 L1116.3 1427.7 Q1122.0 1422.0 1122.0 1414.0 L1122.0 1372.0 Q1122.0 1333.0 1161.0 1333.0 L1179.0 1333.0 Q1200.0 1333.0 1200.0 1354.0 L1200.0 1375.0" fill="none" stroke="#3e4d6b" stroke-width="20" stroke-linejoin="round"/>
<line x1="1101.0" y1="1428.0" x2="1101.0" y2="1448.0" stroke="#1b2231" stroke-width="3"/>
<line x1="1132.0" y1="1416.0" x2="1112.0" y2="1416.0" stroke="#1b2231" stroke-width="3"/>
<line x1="1132.0" y1="1366.0" x2="1112.0" y2="1366.0" stroke="#1b2231" stroke-width="3"/>
<line x1="1132.0" y1="1372.0" x2="1112.0" y2="1372.0" stroke="#1b2231" stroke-width="3"/>
<line x1="1129.9" y1="1336.9" x2="1144.1" y2="1351.1" stroke="#1b2231" stroke-width="3"/>
<line x1="1138.3" y1="1331.8" x2="1149.7" y2="1348.2" stroke="#1b2231" stroke-width="3"/>
<line x1="1185.5" y1="1329.3" x2="1175.5" y2="1346.7" stroke="#1b2231" stroke-width="3"/>
<line x1="1210.0" y1="1364.0" x2="1190.0" y2="1364.0" stroke="#1b2231" stroke-width="3"/>
<path d="M745.0 1473 L769.0 1473 L763.0 1495 L745.0 1495 Z" fill="#3e4d6b"/>
<path d="M1076.0 1473 L1100.0 1473 L1099.0 1495 L1082.0 1495 Z" fill="#3e4d6b"/>
<rect x="745.0" y="1471" width="355" height="4" fill="#3e4d6b"/>
<path d="M744.0 1352 L1101.0 1352 Q1105.0 1400.0 1101.0 1459 L744.0 1459 Q740.0 1400.0 744.0 1352 Z" fill="#9aa6b9"/>
<path d="M738.0 1461 L1107.0 1461 L1105.0 1472 L740.0 1472 Z" fill="#9aa6b9"/>
<rect x="744.0" y="1457" width="357" height="3.5" fill="#5c7090"/>
<path d="M886.5 1280 L958.5 1280 L1086.0 1341 L759.0 1341 Z" fill="#9aa6b9"/>
<rect x="763.0" y="1337" width="319" height="3.5" fill="#5c7090"/>
<path d="M889.5 1269 L955.5 1269 L958.5 1280 L886.5 1280 Z" fill="#9aa6b9"/>
<rect x="888.5" y="1279" width="68" height="3" fill="#5c7090"/>
<path d="M738.0 1341 L1107.0 1341 L1104.0 1352 L741.0 1352 Z" fill="#9aa6b9"/>
<rect x="744.0" y="1351" width="357" height="3.5" fill="#5c7090"/>
<path d="M758.0 1366 L759.0 1413" stroke="#dfe3ea" stroke-width="3.5" stroke-linecap="round"/>
<path d="M758.0 1432 L759.0 1442" stroke="#dfe3ea" stroke-width="3.5" stroke-linecap="round"/>
<path d="M811 1326 L855 1302 M868 1294 L878 1289" stroke="#dfe3ea" stroke-width="4" stroke-linecap="round"/>
<path d="M862 1372 Q922.5 1368 983 1372 L980 1435 Q922.5 1432 865 1435 Z" fill="#dcd2d4"/>
<rect x="902.5" y="1379.8" width="41.1" height="24.1" rx="3" fill="#a7bab6"/>
<rect x="908.7" y="1385.0" width="28.8" height="4.6" fill="#6f9080"/>
<rect x="914.9" y="1394.0" width="16.5" height="4.6" fill="#6f9080"/>
<circle cx="874.1" cy="1384.3" r="2.3" fill="#b9a9aa"/>
<circle cx="951.5" cy="1385.6" r="2.3" fill="#b9a9aa"/>
<circle cx="874.1" cy="1394.7" r="2.3" fill="#b9a9aa"/>
<circle cx="951.5" cy="1396.0" r="2.3" fill="#b9a9aa"/>
<circle cx="883.2" cy="1384.3" r="2.3" fill="#b9a9aa"/>
<circle cx="960.6" cy="1385.6" r="2.3" fill="#b9a9aa"/>
<circle cx="883.2" cy="1394.7" r="2.3" fill="#b9a9aa"/>
<circle cx="960.6" cy="1396.0" r="2.3" fill="#b9a9aa"/>
<circle cx="892.2" cy="1384.3" r="2.3" fill="#b9a9aa"/>
<circle cx="969.7" cy="1385.6" r="2.3" fill="#b9a9aa"/>
<circle cx="892.2" cy="1394.7" r="2.3" fill="#b9a9aa"/>
<circle cx="969.7" cy="1396.0" r="2.3" fill="#b9a9aa"/>
<rect x="870.5" y="1411.0" width="25.4" height="4" fill="#b9a9aa"/>
<rect x="870.5" y="1421.4" width="25.4" height="4" fill="#b9a9aa"/>
<rect x="910.4" y="1411.0" width="25.4" height="4" fill="#b9a9aa"/>
<rect x="910.4" y="1421.4" width="25.4" height="4" fill="#b9a9aa"/>
<rect x="950.3" y="1411.0" width="25.4" height="4" fill="#b9a9aa"/>
<rect x="950.3" y="1421.4" width="25.4" height="4" fill="#b9a9aa"/>
<ellipse cx="1168.5" cy="1276" rx="22.0" ry="4" fill="#98a6bb"/>
<path d="M1156.5 1278 L1162.5 1295 M1180.5 1278 L1174.5 1295" stroke="#98a6bb" stroke-width="3.5"/>
<rect x="1161.5" y="1293" width="14" height="6" fill="#98a6bb"/>
<rect x="1163.5" y="1278" width="10" height="44" fill="#98a6bb"/>
<rect x="1163.5" y="1299" width="10" height="5" fill="#5c7090"/>
<rect x="1163.5" y="1310" width="10" height="5" fill="#5c7090"/>
<path d="M1155.5 1316 L1181.5 1316 L1185.5 1324 L1151.5 1324 Z" fill="#98a6bb"/>
<rect x="1151.5" y="1321" width="34" height="3" fill="#5c7090"/>
<path d="M1433.0 1155.0 L1471.0 1155.0" fill="none" stroke="#3e4d6b" stroke-width="14" stroke-linejoin="round"/>
<line x1="1462.0" y1="1148.0" x2="1462.0" y2="1162.0" stroke="#1b2231" stroke-width="3"/>
<path d="M1471.0 1197.0 L1471.0 1129.0 Q1471.0 1129.0 1471.0 1129.0 L1530.0 1061.0 Q1530.0 1061.0 1530.0 1061.0 L1856.0 1061.0 Q1872.0 1061.0 1872.0 1077.0 L1872.0 1093.0" fill="none" stroke="#3e4d6b" stroke-width="14" stroke-linejoin="round"/>
<line x1="1478.0" y1="1188.0" x2="1464.0" y2="1188.0" stroke="#1b2231" stroke-width="3"/>
<line x1="1478.0" y1="1170.0" x2="1464.0" y2="1170.0" stroke="#1b2231" stroke-width="3"/>
<line x1="1478.0" y1="1140.0" x2="1464.0" y2="1140.0" stroke="#1b2231" stroke-width="3"/>
<line x1="1479.7" y1="1108.4" x2="1490.3" y2="1117.6" stroke="#1b2231" stroke-width="3"/>
<line x1="1504.7" y1="1079.4" x2="1515.3" y2="1088.6" stroke="#1b2231" stroke-width="3"/>
<line x1="1508.7" y1="1075.4" x2="1519.3" y2="1084.6" stroke="#1b2231" stroke-width="3"/>
<line x1="1539.0" y1="1054.0" x2="1539.0" y2="1068.0" stroke="#1b2231" stroke-width="3"/>
<line x1="1545.0" y1="1054.0" x2="1545.0" y2="1068.0" stroke="#1b2231" stroke-width="3"/>
<line x1="1835.0" y1="1054.0" x2="1835.0" y2="1068.0" stroke="#1b2231" stroke-width="3"/>
<line x1="1841.0" y1="1054.0" x2="1841.0" y2="1068.0" stroke="#1b2231" stroke-width="3"/>
<line x1="1879.0" y1="1088.0" x2="1865.0" y2="1088.0" stroke="#1b2231" stroke-width="3"/>
<path d="M1289 1110 L1421 1110 Q1433 1110 1433 1122 L1433 1182 Q1433 1194 1421 1194 L1289 1194 Q1277 1194 1277 1182 L1277 1122 Q1277 1110 1289 1110 Z" fill="#9aa6b9"/>
<path d="M1277 1131 L1433 1129 M1277 1175 L1433 1176" stroke="#5c7090" stroke-width="4.5"/>
<path d="M1297 1131 L1297 1175" stroke="#5c7090" stroke-width="3.5"/>
<path d="M1317 1131 L1317 1175" stroke="#5c7090" stroke-width="3.5"/>
<path d="M1341 1131 L1341 1175" stroke="#5c7090" stroke-width="3.5"/>
<path d="M1367 1131 L1367 1175" stroke="#5c7090" stroke-width="3.5"/>
<path d="M1391 1131 L1391 1175" stroke="#5c7090" stroke-width="3.5"/>
<path d="M1416 1131 L1416 1175" stroke="#5c7090" stroke-width="3.5"/>
<path d="M1287 1125 Q1289 1119 1296 1117 M1305 1116 L1334 1116" stroke="#dfe3ea" stroke-width="4" stroke-linecap="round" fill="none"/>
<rect x="1271" y="1128" width="8" height="50" fill="#e2b863"/>
<rect x="1241" y="1138" width="32" height="9" fill="#e2b863"/>
<rect x="1255" y="1159" width="18" height="12" rx="2" fill="#e2b863"/>
<rect x="1255" y="1167" width="18" height="4" fill="#d49a2e"/>
<circle cx="1220" cy="1142" r="21.5" fill="#b0262f"/>
<circle cx="1220" cy="1142" r="15.479999999999999" fill="#dcd4d8"/>
<path d="M1222.1 1140.5 L1212.4 1131.1 L1217.9 1143.5 Z" fill="#3e4d6b"/>
<circle cx="1220" cy="1142" r="3" fill="#3e4d6b"/>
<path d="M1245 1213 L1503 1213 L1516 1226 L1516 1326 L1503 1339 L1245 1339 L1232 1326 L1232 1226 Z" fill="#a7bab6" stroke="#6f9080" stroke-width="3.5" stroke-linejoin="round"/>
<path d="M1472 1213 L1472 1218 Q1472 1233 1455 1233 L1271 1233 Q1257 1233 1257 1247 Q1257 1261 1271 1261 L1482 1261 Q1496 1261 1496 1274.75 Q1496 1288.5 1482 1288.5 L1271 1288.5 Q1257 1288.5 1257 1302.25 Q1257 1316 1271 1316 L1460 1316 Q1477 1316 1477 1332 L1477 1339" fill="none" stroke="#c3d1ce" stroke-width="14"/>
<path d="M1262 1250 Q1264 1244 1270 1242 M1285 1238 L1303 1238 M1262 1305 Q1264 1299 1270 1297 M1283 1295 L1318 1294" stroke="#eef2f1" stroke-width="3.5" stroke-linecap="round" fill="none"/>
<path d="M1454 1196 L1488 1196 L1488 1203 L1492 1205 L1492 1213 L1450 1213 L1450 1205 L1454 1203 Z" fill="#e2b863"/>
<rect x="1461" y="1201" width="20" height="3" fill="#d49a2e"/>
<path d="M1458 1339 L1499 1339 L1499 1346 L1494 1348 L1494 1354 L1463 1354 L1463 1348 L1458 1346 Z" fill="#e2b863"/>
<rect x="1465" y="1346" width="27" height="3" fill="#d49a2e"/>
<path d="M1355.0 1455.5 L1423.0 1455.5 Q1423.0 1455.5 1423.0 1455.5 L1476.0 1412.0 Q1476.0 1412.0 1476.0 1412.0 L1476.0 1354.0" fill="none" stroke="#3e4d6b" stroke-width="14" stroke-linejoin="round"/>
<line x1="1360.0" y1="1448.5" x2="1360.0" y2="1462.5" stroke="#1b2231" stroke-width="3"/>
<line x1="1365.0" y1="1448.5" x2="1365.0" y2="1462.5" stroke="#1b2231" stroke-width="3"/>
<line x1="1412.0" y1="1448.5" x2="1412.0" y2="1462.5" stroke="#1b2231" stroke-width="3"/>
<line x1="1420.6" y1="1446.6" x2="1429.4" y2="1457.4" stroke="#1b2231" stroke-width="3"/>
<line x1="1465.6" y1="1410.6" x2="1474.4" y2="1421.4" stroke="#1b2231" stroke-width="3"/>
<line x1="1483.0" y1="1400.0" x2="1469.0" y2="1400.0" stroke="#1b2231" stroke-width="3"/>
<line x1="1483.0" y1="1365.0" x2="1469.0" y2="1365.0" stroke="#1b2231" stroke-width="3"/>
<line x1="1483.0" y1="1360.0" x2="1469.0" y2="1360.0" stroke="#1b2231" stroke-width="3"/>
<path d="M1375 1385 Q1400 1382 1425 1385 L1424 1410 Q1400 1413 1376 1410 Z" fill="#3e4d6b"/>
<rect x="1383" y="1390" width="25" height="5" fill="#1b2231"/><rect x="1391" y="1400" width="18" height="5" fill="#1b2231"/>
<rect x="1395" y="1411" width="10" height="35" fill="#98a6bb"/>
<rect x="1395" y="1415" width="10" height="3" fill="#5c7090"/><rect x="1395" y="1438" width="10" height="4" fill="#5c7090"/>
<path d="M1370 1428 L1381 1427 L1383 1442 L1369 1442 Z" fill="#98a6bb"/>
<rect x="1369" y="1437" width="14" height="4" fill="#5c7090"/>
<path d="M1367 1442 L1414 1442 L1415 1449 L1365 1449 Z" fill="#98a6bb"/>
<path d="M1158 1474 L1183 1474 L1178 1495 L1158 1495 Z M1331 1474 L1353 1474 L1353 1495 L1336 1495 Z" fill="#3e4d6b"/>
<rect x="1158" y="1470" width="197" height="6" fill="#3e4d6b"/>
<path d="M1172 1373 L1340 1374 Q1355 1385 1355 1398 L1355 1472 L1158 1472 L1158 1398 Q1162 1380 1172 1373 Z" fill="#a66a39"/>
<path d="M1158 1399 Q1256 1396 1355 1400" fill="none" stroke="#6e2a17" stroke-width="3.5"/>
<path d="M1189 1400 L1188 1471 M1328 1401 L1325 1471" stroke="#6e2a17" stroke-width="3.5"/>
<path d="M1225 1374 Q1228 1385 1240 1385 L1300 1385 Q1312 1385 1315 1374" fill="none" stroke="#6e2a17" stroke-width="3.5"/>
<path d="M1158 1446 L1178 1445 M1158 1454 L1179 1454 M1158 1463 L1179 1463 M1337 1420 L1355 1419 M1337 1428 L1355 1427 M1337 1437 L1355 1436" stroke="#6e2a17" stroke-width="3.5" stroke-linecap="round"/>
<path d="M1175 1382 L1210 1381" stroke="#e2b863" stroke-width="4" stroke-linecap="round"/>
<path d="M1874.5 1448.0 L1874.5 1459.0 Q1874.5 1470.0 1884.6 1474.3 L1889.8 1476.5 Q1905.0 1483.0 1916.8 1471.3 L2016.4 1372.5 Q2032.0 1357.0 2054.0 1357.0 L2097.0 1357.0" fill="none" stroke="#3e4d6b" stroke-width="19" stroke-linejoin="round"/>
<line x1="1890.2" y1="1474.2" x2="1873.8" y2="1483.8" stroke="#1b2231" stroke-width="3"/>
<line x1="1900.5" y1="1473.8" x2="1905.5" y2="1492.2" stroke="#1b2231" stroke-width="3"/>
<line x1="1913.3" y1="1463.3" x2="1926.7" y2="1476.7" stroke="#1b2231" stroke-width="3"/>
<line x1="1955.3" y1="1421.3" x2="1968.7" y2="1434.7" stroke="#1b2231" stroke-width="3"/>
<line x1="1978.3" y1="1398.3" x2="1991.7" y2="1411.7" stroke="#1b2231" stroke-width="3"/>
<line x1="1997.9" y1="1376.7" x2="2010.1" y2="1391.3" stroke="#1b2231" stroke-width="3"/>
<line x1="2001.9" y1="1372.7" x2="2014.1" y2="1387.3" stroke="#1b2231" stroke-width="3"/>
<line x1="2032.0" y1="1347.5" x2="2032.0" y2="1366.5" stroke="#1b2231" stroke-width="3"/>
<line x1="2092.0" y1="1347.5" x2="2092.0" y2="1366.5" stroke="#1b2231" stroke-width="3"/>
<line x1="2096.0" y1="1347.5" x2="2096.0" y2="1366.5" stroke="#1b2231" stroke-width="3"/>
<path d="M1768 1359 Q1749 1432 1723 1495 L1733 1495 Q1759 1440 1781 1381 Z" fill="#3e4d6b"/>
<path d="M1977 1359 Q1996 1432 2021 1495 L2012 1495 Q1986 1440 1963 1381 Z" fill="#3e4d6b"/>
<path d="M1778 1381 L1973 1381 L1886 1451 L1863 1451 Z" fill="#9aa6b9"/>
<rect x="1779" y="1381" width="193" height="4" fill="#5c7090"/>
<path d="M1812 1417 L1940 1417 L1935 1421 L1817 1421 Z" fill="#5c7090"/>
<rect x="1762" y="1409" width="216" height="8" fill="#3e4d6b"/>
<rect x="1768" y="1358" width="209" height="23" fill="#3e4d6b"/>
<path d="M1768 1143 L1977 1143 Q1979 1250 1977 1358 L1768 1358 Q1766 1250 1768 1143 Z" fill="#9aa6b9"/>
<path d="M1843 1105 L1846 1093 Q1872 1090 1898 1093 L1901 1105 Z" fill="#9aa6b9"/>
<path d="M1795 1108 Q1873 1103 1951 1108 L1951 1112 L1947 1113 L1947 1132 L1799 1132 L1799 1113 L1795 1112 Z" fill="#5c7090"/>
<rect x="1799" y="1117" width="148" height="4" fill="#3e4d6b"/>
<path d="M1764 1135 Q1873 1130 1981 1135 L1981 1140 Q1981 1144 1975 1144 L1770 1144 Q1764 1144 1764 1140 Z" fill="#9aa6b9"/>
<path d="M1770 1145 Q1873 1140 1975 1145" fill="none" stroke="#5c7090" stroke-width="3"/>
<path d="M1778 1158 L1778 1180 M1778 1198 L1777 1258" stroke="#dfe3ea" stroke-width="3.5" stroke-linecap="round"/>
<rect x="1799" y="1164" width="28" height="181" rx="14" fill="#5c7090"/>
<path d="M1802 1200 L1824 1200 L1824 1328 Q1824 1342 1813 1342 Q1802 1342 1802 1328 Z" fill="#a66a39"/>
<rect x="1802" y="1200" width="22" height="4" fill="#6e2a17"/>
<path d="M1808 1217 L1809 1265 M1808 1279 L1808 1285" stroke="#e0a851" stroke-width="4" stroke-linecap="round"/>
<path d="M1977 1172 L1985 1172 L1987 1225 L1977 1225 Z" fill="#5c7090"/>
<rect x="1985" y="1190" width="45" height="7" fill="#98a6bb"/>
<path d="M2028 1187 L2035 1187 L2052 1170 M2035 1200 L2028 1200 M2035 1200 L2052 1225 M2035 1193 L2052 1193" stroke="#98a6bb" stroke-width="4" fill="none"/>
<rect x="2028" y="1185" width="7" height="17" fill="#5c7090"/>
<rect x="2048" y="1165" width="7" height="67" rx="3.5" fill="#98a6bb"/>
<path d="M2030 1347 L2033 1339 L2079 1339 L2080 1347 Z" fill="#e2b863"/>
<rect x="2041" y="1305" width="7" height="35" fill="#e2b863"/>
<rect x="2041" y="1332" width="7" height="4" fill="#d49a2e"/>
<path d="M2060 1326 L2071 1325 L2073 1339 L2059 1339 Z" fill="#e2b863"/>
<rect x="2059" y="1334" width="14" height="4" fill="#d49a2e"/>
<circle cx="2044" cy="1289" r="21.5" fill="#b0262f"/>
<circle cx="2044" cy="1289" r="15.479999999999999" fill="#dcd4d8"/>
<path d="M2046.0 1287.3 L2035.4 1278.8 L2042.0 1290.7 Z" fill="#3e4d6b"/>
<circle cx="2044" cy="1289" r="3" fill="#3e4d6b"/>
<path d="M2097 1474 L2116 1474 L2112 1495 L2097 1495 Z" fill="#3e4d6b"/>
<path d="M2240 1474 L2259 1474 L2259 1495 L2244 1495 Z" fill="#3e4d6b"/>
<rect x="2099" y="1469" width="158" height="6" fill="#6e2a17"/>
<path d="M2107 1155 Q2178.0 1151 2253 1155 Q2262 1314.0 2257 1474 Q2178.0 1475 2098 1474 Q2094 1314.0 2107 1155 Z" fill="#a66a39"/>
<path d="M2125 1180 L2120 1308" stroke="#6e2a17" stroke-width="3.5"/>
<path d="M2153 1180 L2150 1308" stroke="#6e2a17" stroke-width="3.5"/>
<path d="M2183 1180 L2182 1308" stroke="#6e2a17" stroke-width="3.5"/>
<path d="M2211 1180 L2212 1308" stroke="#6e2a17" stroke-width="3.5"/>
<path d="M2238 1180 L2240 1308" stroke="#6e2a17" stroke-width="3.5"/>
<path d="M2128 1155 L2129 1164" stroke="#6e2a17" stroke-width="3.5"/>
<path d="M2155 1155 L2155 1164" stroke="#6e2a17" stroke-width="3.5"/>
<path d="M2183 1155 L2183 1164" stroke="#6e2a17" stroke-width="3.5"/>
<path d="M2212 1155 L2212 1164" stroke="#6e2a17" stroke-width="3.5"/>
<path d="M2238 1155 L2238 1164" stroke="#6e2a17" stroke-width="3.5"/>
<path d="M2120 1323 L2118 1454" stroke="#6e2a17" stroke-width="3.5"/>
<path d="M2150 1323 L2148 1454" stroke="#6e2a17" stroke-width="3.5"/>
<path d="M2183 1323 L2180 1454" stroke="#6e2a17" stroke-width="3.5"/>
<path d="M2211 1323 L2209 1454" stroke="#6e2a17" stroke-width="3.5"/>
<path d="M2240 1323 L2238 1454" stroke="#6e2a17" stroke-width="3.5"/>
<rect x="2096" y="1164" width="163" height="15" rx="3" fill="#e2b863"/>
<rect x="2097" y="1179" width="162" height="3" fill="#6e2a17"/>
<rect x="2096" y="1308" width="163" height="14" rx="3" fill="#e2b863"/>
<rect x="2097" y="1322" width="162" height="3" fill="#6e2a17"/>
<rect x="2096" y="1454" width="163" height="15" rx="3" fill="#e2b863"/>
<rect x="2097" y="1469" width="162" height="3" fill="#6e2a17"/>
<path d="M2102 1169 L2157 1168 M2167 1168 L2182 1168" stroke="#f1d489" stroke-width="4" stroke-linecap="round"/>
<path d="M2103 1313 L2147 1314" stroke="#f1d489" stroke-width="4" stroke-linecap="round"/>
<path d="M2111 1193 L2108 1249 M2107 1265 L2108 1274" stroke="#e0a851" stroke-width="4" stroke-linecap="round"/>
<path d="M197.5 1849.0 L197.5 1827.0 Q197.5 1805.0 219.5 1805.0 L308.0 1805.0 Q338.0 1805.0 338.0 1835.0 L338.0 1906.5 Q338.0 1931.5 313.0 1931.5 L290.5 1931.5 Q265.5 1931.5 265.5 1906.5 L265.5 1878.5 Q265.5 1853.5 290.5 1853.5 L383.2 1853.5 Q401.0 1853.5 401.0 1871.2 L401.0 1889.0" fill="none" stroke="#3e4d6b" stroke-width="20" stroke-linejoin="round"/>
<line x1="207.5" y1="1838.0" x2="187.5" y2="1838.0" stroke="#1b2231" stroke-width="3"/>
<line x1="207.5" y1="1843.0" x2="187.5" y2="1843.0" stroke="#1b2231" stroke-width="3"/>
<line x1="222.0" y1="1795.0" x2="222.0" y2="1815.0" stroke="#1b2231" stroke-width="3"/>
<line x1="227.0" y1="1795.0" x2="227.0" y2="1815.0" stroke="#1b2231" stroke-width="3"/>
<line x1="307.0" y1="1795.0" x2="307.0" y2="1815.0" stroke="#1b2231" stroke-width="3"/>
<line x1="348.0" y1="1837.0" x2="328.0" y2="1837.0" stroke="#1b2231" stroke-width="3"/>
<line x1="348.0" y1="1890.0" x2="328.0" y2="1890.0" stroke="#1b2231" stroke-width="3"/>
<line x1="348.0" y1="1895.0" x2="328.0" y2="1895.0" stroke="#1b2231" stroke-width="3"/>
<line x1="298.0" y1="1921.5" x2="298.0" y2="1941.5" stroke="#1b2231" stroke-width="3"/>
<line x1="312.0" y1="1921.5" x2="312.0" y2="1941.5" stroke="#1b2231" stroke-width="3"/>
<line x1="315.0" y1="1921.5" x2="315.0" y2="1941.5" stroke="#1b2231" stroke-width="3"/>
<line x1="275.5" y1="1878.0" x2="255.5" y2="1878.0" stroke="#1b2231" stroke-width="3"/>
<line x1="275.5" y1="1900.0" x2="255.5" y2="1900.0" stroke="#1b2231" stroke-width="3"/>
<line x1="283.0" y1="1843.5" x2="283.0" y2="1863.5" stroke="#1b2231" stroke-width="3"/>
<line x1="370.0" y1="1843.5" x2="370.0" y2="1863.5" stroke="#1b2231" stroke-width="3"/>
<line x1="411.0" y1="1872.0" x2="391.0" y2="1872.0" stroke="#1b2231" stroke-width="3"/>
<line x1="411.0" y1="1880.0" x2="391.0" y2="1880.0" stroke="#1b2231" stroke-width="3"/>
<rect x="387" y="1886" width="28" height="6" rx="2" fill="#5c7090"/>
<path d="M277 1941 L327 1941 L325 1950 L279 1950 Z" fill="#e2b863"/>
<path d="M283 1950 L296 1950 L295 1963 L284 1963 Z" fill="#e2b863"/>
<rect x="283" y="1950" width="13" height="4" fill="#d49a2e"/>
<rect x="309" y="1950" width="7" height="30" fill="#e2b863"/>
<rect x="309" y="1950" width="7" height="4" fill="#d49a2e"/>
<circle cx="312" cy="1999" r="21.5" fill="#b0262f"/>
<circle cx="312" cy="1999" r="15.479999999999999" fill="#dcd4d8"/>
<path d="M314.0 2000.7 L320.6 1988.8 L310.0 1997.3 Z" fill="#3e4d6b"/>
<circle cx="312" cy="1999" r="3" fill="#3e4d6b"/>
<path d="M401 1892 Q401 1904 413 1904 L440 1904 Q449 1904 449 1913 Q449 1922 440 1922 L370 1922 Q361 1922 361 1930.5 Q361 1939.5 370 1939.5 L440 1939.5 Q449 1939.5 449 1948 Q449 1957 440 1957 L370 1957 Q361 1957 361 1966 Q361 1975 370 1975 L440 1975 Q449 1975 449 1983.5 Q449 1992 440 1992 L413 1992 Q402 1992 402 2007" fill="none" stroke="#a66a39" stroke-width="9"/>
<path d="M437 1898.5 L437 1907.5" stroke="#6e2a17" stroke-width="3"/>
<path d="M373 1916.5 L373 1925.5" stroke="#6e2a17" stroke-width="3"/>
<path d="M437 1916.5 L437 1925.5" stroke="#6e2a17" stroke-width="3"/>
<path d="M373 1934.5 L373 1943.5" stroke="#6e2a17" stroke-width="3"/>
<path d="M437 1934.5 L437 1943.5" stroke="#6e2a17" stroke-width="3"/>
<path d="M373 1952.5 L373 1961.5" stroke="#6e2a17" stroke-width="3"/>
<path d="M437 1952.5 L437 1961.5" stroke="#6e2a17" stroke-width="3"/>
<path d="M373 1970.5 L373 1979.5" stroke="#6e2a17" stroke-width="3"/>
<path d="M437 1970.5 L437 1979.5" stroke="#6e2a17" stroke-width="3"/>
<path d="M437 1987.5 L437 1996.5" stroke="#6e2a17" stroke-width="3"/>
<path d="M402.0 2140.0 L402.0 2151.5 Q402.0 2163.0 413.5 2163.0 L418.0 2163.0 Q432.0 2163.0 442.6 2153.9 L481.3 2120.8 Q498.0 2106.5 520.0 2106.5 L610.0 2106.5" fill="none" stroke="#3e4d6b" stroke-width="19" stroke-linejoin="round"/>
<line x1="411.5" y1="2150.0" x2="392.5" y2="2150.0" stroke="#1b2231" stroke-width="3"/>
<line x1="415.0" y1="2153.5" x2="415.0" y2="2172.5" stroke="#1b2231" stroke-width="3"/>
<line x1="428.0" y1="2153.5" x2="428.0" y2="2172.5" stroke="#1b2231" stroke-width="3"/>
<line x1="438.9" y1="2144.7" x2="451.1" y2="2159.3" stroke="#1b2231" stroke-width="3"/>
<line x1="448.9" y1="2135.7" x2="461.1" y2="2150.3" stroke="#1b2231" stroke-width="3"/>
<line x1="465.9" y1="2121.7" x2="478.1" y2="2136.3" stroke="#1b2231" stroke-width="3"/>
<line x1="500.0" y1="2097.0" x2="500.0" y2="2116.0" stroke="#1b2231" stroke-width="3"/>
<line x1="590.0" y1="2097.0" x2="590.0" y2="2116.0" stroke="#1b2231" stroke-width="3"/>
<line x1="598.0" y1="2097.0" x2="598.0" y2="2116.0" stroke="#1b2231" stroke-width="3"/>
<path d="M355.0 2102 Q341.5 2140 330.0 2185 L336.0 2185 Q349.5 2145 365.5 2117 Z" fill="#3e4d6b"/>
<path d="M448.0 2102 Q461.5 2140 473.0 2185 L467.0 2185 Q453.5 2145 437.5 2117 Z" fill="#3e4d6b"/>
<path d="M364.0 2117 L439.0 2117 L412.0 2142 L393.5 2142 Z" fill="#9aa6b9"/>
<rect x="364.0" y="2117" width="75" height="3.5" fill="#5c7090"/>
<rect x="350.0" y="2132" width="103" height="6" fill="#3e4d6b"/>
<rect x="355.0" y="2102" width="93" height="16" fill="#3e4d6b"/>
<path d="M355.0 2034 Q353.5 2068 355.5 2102 L447.5 2102 Q449.5 2068 448.0 2034 Z" fill="#9aa6b9"/>
<path d="M355.5 2036 Q361.5 2014 387.5 2013 L415.5 2013 Q441.5 2014 447.5 2036 Z" fill="#9aa6b9"/>
<path d="M389.5 2007 L413.5 2007 L415.5 2013 L387.5 2013 Z" fill="#9aa6b9"/>
<path d="M356.5 2036.5 Q401.5 2033 446.5 2036.5" fill="none" stroke="#5c7090" stroke-width="3"/>
<path d="M362.5 2046 L362.5 2070 M387.5 2023 Q389.5 2020 393.5 2019" fill="none" stroke="#dfe3ea" stroke-width="3" stroke-linecap="round"/>
<path d="M372.0 2046.5 Q404.0 2042.5 436.0 2046.5 L433.0 2080.5 Q404.0 2077.5 375.0 2080.5 Z" fill="#dcd2d4"/>
<rect x="378.4" y="2051.0" width="25.6" height="23.0" rx="3" fill="#a7bab6"/>
<rect x="382.9" y="2056.7" width="17.3" height="3.6" fill="#6f9080"/>
<rect x="386.1" y="2064.3" width="9.6" height="3.6" fill="#6f9080"/>
<circle cx="410.4" cy="2057.1" r="2.3" fill="#b9a9aa"/>
<circle cx="410.4" cy="2067.9" r="2.3" fill="#b9a9aa"/>
<circle cx="420.0" cy="2057.1" r="2.3" fill="#b9a9aa"/>
<circle cx="420.0" cy="2067.9" r="2.3" fill="#b9a9aa"/>
<circle cx="429.6" cy="2057.1" r="2.3" fill="#b9a9aa"/>
<circle cx="429.6" cy="2067.9" r="2.3" fill="#b9a9aa"/>
<path d="M107.5 2147 L287.5 2147 Q294.5 2165 296.0 2186 Q197.5 2190 99.0 2186 Q100.5 2165 107.5 2147 Z" fill="#3e4d6b"/>
<rect x="147.5" y="2152" width="100" height="27" rx="13.5" fill="#2e3a52"/>
<rect x="151.5" y="2155" width="92" height="21" rx="10.5" fill="#e2b863"/>
<path d="M175.5 2159 Q171.0 2166 171.0 2168 Q171.0 2173 175.5 2173 Q180.0 2173 180.0 2168 Q180.0 2166 175.5 2159Z" fill="#b0262f"/>
<path d="M197.5 2159 Q193.0 2166 193.0 2168 Q193.0 2173 197.5 2173 Q202.0 2173 202.0 2168 Q202.0 2166 197.5 2159Z" fill="#b0262f"/>
<path d="M219.5 2159 Q215.0 2166 215.0 2168 Q215.0 2173 219.5 2173 Q224.0 2173 224.0 2168 Q224.0 2166 219.5 2159Z" fill="#b0262f"/>
<path d="M175.5 1953 L175.5 1966 C152.5 1982 117.5 2008 97.5 2026 C88.5 2034 83.5 2048 84.0 2062 C84.5 2085 97.5 2110 106.0 2137 L108.5 2147 L286.5 2147 L289.0 2137 C297.5 2110 310.5 2085 311.0 2062 C311.5 2048 306.5 2034 297.5 2026 C277.5 2008 242.5 1982 219.5 1966 L219.5 1953 Z" fill="#9aa6b9"/>
<path d="M106.5 2138 Q197.5 2134 288.5 2138 M107.5 2146 Q197.5 2142 287.5 2146" fill="none" stroke="#5c7090" stroke-width="3"/>
<path d="M175.5 1955 L219.5 1955 M176.5 1963.5 L218.5 1963.5" stroke="#5c7090" stroke-width="3"/>
<path d="M179.0 1857 L216.0 1857 L220.0 1934 L175.0 1934 Z" fill="#9aa6b9"/>
<rect x="175.5" y="1930" width="44" height="3" fill="#5c7090"/>
<path d="M168.5 1934 L226.5 1934 Q228.5 1942 226.5 1950 L168.5 1950 Q166.5 1942 168.5 1934 Z" fill="#9aa6b9"/>
<path d="M173.5 1847 L221.5 1847 Q223.5 1852 221.5 1857 L173.5 1857 Q171.5 1852 173.5 1847 Z" fill="#9aa6b9"/>
<path d="M191.5 1871 L190.5 1895 M189.5 1907 L189.5 1913 M175.5 1941 L184.5 1941" stroke="#dfe3ea" stroke-width="3.5" stroke-linecap="round"/>
<path d="M134.5 2014 Q102.5 2035 93.5 2072 M147.5 2002 L166.5 1983" fill="none" stroke="#dfe3ea" stroke-width="3.5" stroke-linecap="round"/>
<circle cx="197.5" cy="2046" r="31" fill="none" stroke="#5c7090" stroke-width="5"/>
<circle cx="197.5" cy="2012.0" r="5" fill="#5c7090"/><circle cx="197.5" cy="2012.0" r="2" fill="#9aa6b9"/>
<circle cx="226.9" cy="2029.0" r="5" fill="#5c7090"/><circle cx="226.9" cy="2029.0" r="2" fill="#9aa6b9"/>
<circle cx="226.9" cy="2063.0" r="5" fill="#5c7090"/><circle cx="226.9" cy="2063.0" r="2" fill="#9aa6b9"/>
<circle cx="197.5" cy="2080.0" r="5" fill="#5c7090"/><circle cx="197.5" cy="2080.0" r="2" fill="#9aa6b9"/>
<circle cx="168.1" cy="2063.0" r="5" fill="#5c7090"/><circle cx="168.1" cy="2063.0" r="2" fill="#9aa6b9"/>
<circle cx="168.1" cy="2029.0" r="5" fill="#5c7090"/><circle cx="168.1" cy="2029.0" r="2" fill="#9aa6b9"/>
<circle cx="197.5" cy="2046" r="22" fill="#5c7090"/>
<path d="M180.5 2037 L214.5 2037 A19.5 19.5 0 1 1 180.5 2037 Z" fill="#a66a39"/>
<rect x="180.5" y="2036" width="34" height="3.5" fill="#6e2a17"/>
<path d="M185.5 2035 Q189.5 2030 195.5 2029" fill="none" stroke="#9fc0dd" stroke-width="3" stroke-linecap="round"/>
<path d="M183.5 2045 L187.5 2042" stroke="#e2b863" stroke-width="2.5"/>
<path d="M115.5 2006 L144.5 1988 L147.5 1996 L119.5 2012 Z" fill="#5c7090"/>
<path d="M127.5 1998 L107.5 1972" stroke="#98a6bb" stroke-width="5"/>
<path d="M88.5 1974 L107.5 1972 L113.5 1951" stroke="#98a6bb" stroke-width="3.5" fill="none"/>
<path d="M119.5 1984 L123.5 1980" stroke="#5c7090" stroke-width="4"/>
<path d="M85.5 1975 L117.5 1949" stroke="#98a6bb" stroke-width="4.5" fill="none" stroke-linecap="round"/>
<path d="M709.5 1849.0 L709.5 1778.0 Q709.5 1753.0 734.5 1753.0 L763.5 1753.0 Q788.5 1753.0 788.5 1778.0 L788.5 1882.0 Q788.5 1910.0 816.5 1910.0 L834.5 1910.0 Q862.5 1910.0 862.5 1882.0 L862.5 1818.5 Q862.5 1793.5 887.5 1793.5 L913.8 1793.5 Q931.0 1793.5 931.0 1810.8 L931.0 1828.0" fill="none" stroke="#3e4d6b" stroke-width="20" stroke-linejoin="round"/>
<line x1="719.5" y1="1778.0" x2="699.5" y2="1778.0" stroke="#1b2231" stroke-width="3"/>
<line x1="719.5" y1="1838.0" x2="699.5" y2="1838.0" stroke="#1b2231" stroke-width="3"/>
<line x1="719.5" y1="1843.0" x2="699.5" y2="1843.0" stroke="#1b2231" stroke-width="3"/>
<line x1="727.0" y1="1743.0" x2="727.0" y2="1763.0" stroke="#1b2231" stroke-width="3"/>
<line x1="774.0" y1="1743.0" x2="774.0" y2="1763.0" stroke="#1b2231" stroke-width="3"/>
<line x1="798.5" y1="1775.0" x2="778.5" y2="1775.0" stroke="#1b2231" stroke-width="3"/>
<line x1="798.5" y1="1880.0" x2="778.5" y2="1880.0" stroke="#1b2231" stroke-width="3"/>
<line x1="798.5" y1="1885.0" x2="778.5" y2="1885.0" stroke="#1b2231" stroke-width="3"/>
<line x1="805.0" y1="1900.0" x2="805.0" y2="1920.0" stroke="#1b2231" stroke-width="3"/>
<line x1="843.0" y1="1900.0" x2="843.0" y2="1920.0" stroke="#1b2231" stroke-width="3"/>
<line x1="872.5" y1="1880.0" x2="852.5" y2="1880.0" stroke="#1b2231" stroke-width="3"/>
<line x1="872.5" y1="1808.0" x2="852.5" y2="1808.0" stroke="#1b2231" stroke-width="3"/>
<line x1="877.0" y1="1783.5" x2="877.0" y2="1803.5" stroke="#1b2231" stroke-width="3"/>
<line x1="910.0" y1="1783.5" x2="910.0" y2="1803.5" stroke="#1b2231" stroke-width="3"/>
<line x1="941.0" y1="1822.0" x2="921.0" y2="1822.0" stroke="#1b2231" stroke-width="3"/>
<rect x="917" y="1826" width="28" height="6" rx="2" fill="#5c7090"/>
<path d="M802 1920 L852 1920 L850 1929 L804 1929 Z" fill="#e2b863"/>
<path d="M808 1929 L821 1929 L820 1942 L809 1942 Z" fill="#e2b863"/>
<rect x="808" y="1929" width="13" height="4" fill="#d49a2e"/>
<rect x="835" y="1929" width="7" height="30" fill="#e2b863"/>
<rect x="835" y="1929" width="7" height="4" fill="#d49a2e"/>
<circle cx="838" cy="1978" r="21.5" fill="#b0262f"/>
<circle cx="838" cy="1978" r="15.479999999999999" fill="#dcd4d8"/>
<path d="M840.0 1979.7 L846.6 1967.8 L836.0 1976.3 Z" fill="#3e4d6b"/>
<circle cx="838" cy="1978" r="3" fill="#3e4d6b"/>
<path d="M931 1831 Q931 1843 942 1843 L970 1843 Q979 1843 979 1852 Q979 1861 970 1861 L900 1861 Q891 1861 891 1870 Q891 1879 900 1879 L970 1879 Q979 1879 979 1888 Q979 1897 970 1897 L900 1897 Q891 1897 891 1906 Q891 1915 900 1915 L970 1915 Q979 1915 979 1924 Q979 1933 970 1933 L945 1933 Q932 1933 932 1945 L932 1982" fill="none" stroke="#a66a39" stroke-width="9"/>
<path d="M966 1838.5 L966 1847.5" stroke="#6e2a17" stroke-width="3"/>
<path d="M903 1856.5 L903 1865.5" stroke="#6e2a17" stroke-width="3"/>
<path d="M966 1856.5 L966 1865.5" stroke="#6e2a17" stroke-width="3"/>
<path d="M903 1874.5 L903 1883.5" stroke="#6e2a17" stroke-width="3"/>
<path d="M966 1874.5 L966 1883.5" stroke="#6e2a17" stroke-width="3"/>
<path d="M903 1892.5 L903 1901.5" stroke="#6e2a17" stroke-width="3"/>
<path d="M966 1892.5 L966 1901.5" stroke="#6e2a17" stroke-width="3"/>
<path d="M903 1910.5 L903 1919.5" stroke="#6e2a17" stroke-width="3"/>
<path d="M966 1910.5 L966 1919.5" stroke="#6e2a17" stroke-width="3"/>
<path d="M966 1928.5 L966 1937.5" stroke="#6e2a17" stroke-width="3"/>
<rect x="906" y="1959" width="22" height="6" fill="#a66a39"/>
<rect x="924" y="1940" width="17" height="5" fill="#a66a39"/><rect x="924" y="1976" width="17" height="5" fill="#a66a39"/>
<path d="M927 1950 L937 1950 M927 1970 L937 1970" stroke="#6e2a17" stroke-width="3"/>
<circle cx="894" cy="1962" r="15" fill="#b0262f"/><circle cx="894" cy="1962" r="10.5" fill="#dcd4d8"/>
<path d="M892 1964 L899 1955 L895 1966 Z" fill="#3e4d6b"/>
<path d="M848 2164 L869 2164 L865 2185 L848 2185 Z M993 2164 L1012 2164 L1012 2185 L997 2185 Z" fill="#3e4d6b"/>
<rect x="848" y="2160" width="165" height="5" fill="#3e4d6b"/>
<path d="M1015.0 2123.0 L1021.5 2123.0 Q1028.0 2123.0 1033.0 2118.9 L1045.7 2108.6 Q1055.0 2101.0 1055.0 2089.0 L1055.0 1802.0 Q1055.0 1790.0 1063.1 1781.1 L1073.3 1769.9 Q1080.0 1762.5 1090.0 1762.5 L1227.0 1762.5 Q1257.0 1762.5 1257.0 1792.5 L1257.0 1845.0" fill="none" stroke="#3e4d6b" stroke-width="19" stroke-linejoin="round"/>
<line x1="1020.0" y1="2113.5" x2="1020.0" y2="2132.5" stroke="#1b2231" stroke-width="3"/>
<line x1="1064.0" y1="2090.0" x2="1045.0" y2="2090.0" stroke="#1b2231" stroke-width="3"/>
<line x1="1064.0" y1="2085.0" x2="1045.0" y2="2085.0" stroke="#1b2231" stroke-width="3"/>
<line x1="1064.0" y1="1970.0" x2="1045.0" y2="1970.0" stroke="#1b2231" stroke-width="3"/>
<line x1="1064.0" y1="1975.0" x2="1045.0" y2="1975.0" stroke="#1b2231" stroke-width="3"/>
<line x1="1064.0" y1="1800.0" x2="1045.0" y2="1800.0" stroke="#1b2231" stroke-width="3"/>
<line x1="1064.0" y1="1795.0" x2="1045.0" y2="1795.0" stroke="#1b2231" stroke-width="3"/>
<line x1="1082.0" y1="1753.0" x2="1082.0" y2="1772.0" stroke="#1b2231" stroke-width="3"/>
<line x1="1088.0" y1="1753.0" x2="1088.0" y2="1772.0" stroke="#1b2231" stroke-width="3"/>
<line x1="1222.0" y1="1753.0" x2="1222.0" y2="1772.0" stroke="#1b2231" stroke-width="3"/>
<line x1="1228.0" y1="1753.0" x2="1228.0" y2="1772.0" stroke="#1b2231" stroke-width="3"/>
<line x1="1266.5" y1="1795.0" x2="1247.5" y2="1795.0" stroke="#1b2231" stroke-width="3"/>
<line x1="1266.5" y1="1800.0" x2="1247.5" y2="1800.0" stroke="#1b2231" stroke-width="3"/>
<path d="M847 2046 Q931 2042 1015 2046 L1015 2160 L848 2160 Q845 2100 847 2046 Z" fill="#9aa6b9"/>
<path d="M848 2056 Q931 2053 1014 2056" fill="none" stroke="#5c7090" stroke-width="3.5"/>
<rect x="848" y="2156" width="166" height="3" fill="#5c7090"/>
<path d="M1015 2080 L998 2081 Q993 2082 993 2088 L993 2140 Q993 2147 999 2147 L1015 2148" fill="none" stroke="#5c7090" stroke-width="3.5"/>
<path d="M857 2066 L857 2105 M857 2115 L857 2127" stroke="#dfe3ea" stroke-width="3.5" stroke-linecap="round"/>
<path d="M872 2079 Q903.5 2075 935 2079 L932 2113 Q903.5 2110 875 2113 Z" fill="#dcd2d4"/>
<rect x="878.3" y="2083.5" width="25.2" height="23.0" rx="3" fill="#a7bab6"/>
<rect x="882.7" y="2089.2" width="17.0" height="3.6" fill="#6f9080"/>
<rect x="885.9" y="2096.8" width="9.4" height="3.6" fill="#6f9080"/>
<circle cx="909.8" cy="2089.6" r="2.3" fill="#b9a9aa"/>
<circle cx="909.8" cy="2100.4" r="2.3" fill="#b9a9aa"/>
<circle cx="919.2" cy="2089.6" r="2.3" fill="#b9a9aa"/>
<circle cx="919.2" cy="2100.4" r="2.3" fill="#b9a9aa"/>
<circle cx="928.7" cy="2089.6" r="2.3" fill="#b9a9aa"/>
<circle cx="928.7" cy="2100.4" r="2.3" fill="#b9a9aa"/>
<path d="M884 2043 L884 2018 Q884 2008 896 2004 L919 1991 L943 1991 L966 2004 Q978 2008 978 2018 L978 2043 Z" fill="#5c7090"/>
<path d="M921 1981 L941 1981 L945 1991 L917 1991 Z" fill="#5c7090"/>
<path d="M886 2011 Q931 2007 976 2011" fill="none" stroke="#3e4d6b" stroke-width="3.5"/>
<path d="M906 2000 Q912 1996 919 1995 M893 2020 L893 2036" fill="none" stroke="#9bb3d0" stroke-width="3.5" stroke-linecap="round"/>
<path d="M808 2114 L820 2130 Q824 2136 832 2136 L845 2136" fill="none" stroke="#a66a39" stroke-width="13"/>
<path d="M812 2128 L820 2122 M816 2133 L825 2127 M832 2130 L832 2142 M836 2130 L836 2142" stroke="#6e2a17" stroke-width="3"/>
<rect x="842" y="2126" width="6" height="20" fill="#a66a39"/>
<path d="M619.5 2147 L799.5 2147 Q806.5 2165 808.0 2186 Q709.5 2190 611.0 2186 Q612.5 2165 619.5 2147 Z" fill="#3e4d6b"/>
<rect x="659.5" y="2152" width="100" height="27" rx="13.5" fill="#2e3a52"/>
<rect x="663.5" y="2155" width="92" height="21" rx="10.5" fill="#e2b863"/>
<path d="M687.5 2159 Q683.0 2166 683.0 2168 Q683.0 2173 687.5 2173 Q692.0 2173 692.0 2168 Q692.0 2166 687.5 2159Z" fill="#b0262f"/>
<path d="M709.5 2159 Q705.0 2166 705.0 2168 Q705.0 2173 709.5 2173 Q714.0 2173 714.0 2168 Q714.0 2166 709.5 2159Z" fill="#b0262f"/>
<path d="M731.5 2159 Q727.0 2166 727.0 2168 Q727.0 2173 731.5 2173 Q736.0 2173 736.0 2168 Q736.0 2166 731.5 2159Z" fill="#b0262f"/>
<path d="M687.5 1953 L687.5 1966 C664.5 1982 629.5 2008 609.5 2026 C600.5 2034 595.5 2048 596.0 2062 C596.5 2085 609.5 2110 618.0 2137 L620.5 2147 L798.5 2147 L801.0 2137 C809.5 2110 822.5 2085 823.0 2062 C823.5 2048 818.5 2034 809.5 2026 C789.5 2008 754.5 1982 731.5 1966 L731.5 1953 Z" fill="#9aa6b9"/>
<path d="M618.5 2138 Q709.5 2134 800.5 2138 M619.5 2146 Q709.5 2142 799.5 2146" fill="none" stroke="#5c7090" stroke-width="3"/>
<path d="M687.5 1955 L731.5 1955 M688.5 1963.5 L730.5 1963.5" stroke="#5c7090" stroke-width="3"/>
<path d="M691.0 1857 L728.0 1857 L732.0 1934 L687.0 1934 Z" fill="#9aa6b9"/>
<rect x="687.5" y="1930" width="44" height="3" fill="#5c7090"/>
<path d="M680.5 1934 L738.5 1934 Q740.5 1942 738.5 1950 L680.5 1950 Q678.5 1942 680.5 1934 Z" fill="#9aa6b9"/>
<path d="M685.5 1847 L733.5 1847 Q735.5 1852 733.5 1857 L685.5 1857 Q683.5 1852 685.5 1847 Z" fill="#9aa6b9"/>
<path d="M703.5 1871 L702.5 1895 M701.5 1907 L701.5 1913 M687.5 1941 L696.5 1941" stroke="#dfe3ea" stroke-width="3.5" stroke-linecap="round"/>
<path d="M646.5 2014 Q614.5 2035 605.5 2072 M659.5 2002 L678.5 1983" fill="none" stroke="#dfe3ea" stroke-width="3.5" stroke-linecap="round"/>
<circle cx="709.5" cy="2046" r="31" fill="none" stroke="#5c7090" stroke-width="5"/>
<circle cx="709.5" cy="2012.0" r="5" fill="#5c7090"/><circle cx="709.5" cy="2012.0" r="2" fill="#9aa6b9"/>
<circle cx="738.9" cy="2029.0" r="5" fill="#5c7090"/><circle cx="738.9" cy="2029.0" r="2" fill="#9aa6b9"/>
<circle cx="738.9" cy="2063.0" r="5" fill="#5c7090"/><circle cx="738.9" cy="2063.0" r="2" fill="#9aa6b9"/>
<circle cx="709.5" cy="2080.0" r="5" fill="#5c7090"/><circle cx="709.5" cy="2080.0" r="2" fill="#9aa6b9"/>
<circle cx="680.1" cy="2063.0" r="5" fill="#5c7090"/><circle cx="680.1" cy="2063.0" r="2" fill="#9aa6b9"/>
<circle cx="680.1" cy="2029.0" r="5" fill="#5c7090"/><circle cx="680.1" cy="2029.0" r="2" fill="#9aa6b9"/>
<circle cx="709.5" cy="2046" r="22" fill="#5c7090"/>
<path d="M692.5 2037 L726.5 2037 A19.5 19.5 0 1 1 692.5 2037 Z" fill="#a66a39"/>
<rect x="692.5" y="2036" width="34" height="3.5" fill="#6e2a17"/>
<path d="M697.5 2035 Q701.5 2030 707.5 2029" fill="none" stroke="#9fc0dd" stroke-width="3" stroke-linecap="round"/>
<path d="M695.5 2045 L699.5 2042" stroke="#e2b863" stroke-width="2.5"/>
<path d="M627.5 2006 L656.5 1988 L659.5 1996 L631.5 2012 Z" fill="#5c7090"/>
<path d="M639.5 1998 L619.5 1972" stroke="#98a6bb" stroke-width="5"/>
<path d="M600.5 1974 L619.5 1972 L625.5 1951" stroke="#98a6bb" stroke-width="3.5" fill="none"/>
<path d="M631.5 1984 L635.5 1980" stroke="#5c7090" stroke-width="4"/>
<path d="M597.5 1975 L629.5 1949" stroke="#98a6bb" stroke-width="4.5" fill="none" stroke-linecap="round"/>
<path d="M1211 2159 L1230 2159 L1226 2180 L1211 2180 Z" fill="#3e4d6b"/>
<path d="M1352 2159 L1371 2159 L1371 2180 L1356 2180 Z" fill="#3e4d6b"/>
<rect x="1213" y="2154" width="156" height="6" fill="#6e2a17"/>
<path d="M1221 1845 Q1291.0 1841 1365 1845 Q1374 2001.5 1369 2159 Q1291.0 2160 1212 2159 Q1208 2001.5 1221 1845 Z" fill="#a66a39"/>
<path d="M1240 1868 L1237 1996" stroke="#6e2a17" stroke-width="3.5"/>
<path d="M1268 1868 L1266 1996" stroke="#6e2a17" stroke-width="3.5"/>
<path d="M1295 1868 L1295 1996" stroke="#6e2a17" stroke-width="3.5"/>
<path d="M1326 1868 L1325 1996" stroke="#6e2a17" stroke-width="3.5"/>
<path d="M1349 1868 L1347 1996" stroke="#6e2a17" stroke-width="3.5"/>
<path d="M1240 1845 L1240 1853" stroke="#6e2a17" stroke-width="3.5"/>
<path d="M1268 1845 L1268 1853" stroke="#6e2a17" stroke-width="3.5"/>
<path d="M1295 1845 L1295 1853" stroke="#6e2a17" stroke-width="3.5"/>
<path d="M1325 1845 L1325 1853" stroke="#6e2a17" stroke-width="3.5"/>
<path d="M1347 1845 L1347 1853" stroke="#6e2a17" stroke-width="3.5"/>
<path d="M1235 2012 L1232 2144" stroke="#6e2a17" stroke-width="3.5"/>
<path d="M1265 2012 L1263 2144" stroke="#6e2a17" stroke-width="3.5"/>
<path d="M1293 2012 L1292 2144" stroke="#6e2a17" stroke-width="3.5"/>
<path d="M1321 2012 L1318 2144" stroke="#6e2a17" stroke-width="3.5"/>
<path d="M1349 2012 L1346 2144" stroke="#6e2a17" stroke-width="3.5"/>
<rect x="1210" y="1853.5" width="161" height="14.0" rx="3" fill="#e2b863"/>
<rect x="1211" y="1867.5" width="160" height="3" fill="#6e2a17"/>
<rect x="1210" y="1996" width="161" height="16" rx="3" fill="#e2b863"/>
<rect x="1211" y="2012" width="160" height="3" fill="#6e2a17"/>
<rect x="1210" y="2144" width="161" height="14" rx="3" fill="#e2b863"/>
<rect x="1211" y="2158" width="160" height="3" fill="#6e2a17"/>
<path d="M1216 1858.5 L1271 1857.5 M1281 1857.5 L1296 1857.5" stroke="#f1d489" stroke-width="4" stroke-linecap="round"/>
<path d="M1217 2001 L1261 2002" stroke="#f1d489" stroke-width="4" stroke-linecap="round"/>
<path d="M1225 1881.5 L1222 1937.5 M1221 1953.5 L1222 1962.5" stroke="#e0a851" stroke-width="4" stroke-linecap="round"/>
<path d="M1371.0 1903.5 L1600.2 1903.5 Q1612.0 1903.5 1612.0 1915.2 L1612.0 1927.0" fill="none" stroke="#98a6bb" stroke-width="13" stroke-linejoin="round"/>
<line x1="1374.0" y1="1897.0" x2="1374.0" y2="1910.0" stroke="#5c7090" stroke-width="2.5"/>
<line x1="1377.0" y1="1897.0" x2="1377.0" y2="1910.0" stroke="#5c7090" stroke-width="2.5"/>
<line x1="1592.0" y1="1897.0" x2="1592.0" y2="1910.0" stroke="#5c7090" stroke-width="2.5"/>
<line x1="1595.0" y1="1897.0" x2="1595.0" y2="1910.0" stroke="#5c7090" stroke-width="2.5"/>
<path d="M1603 1925 L1621 1925 L1622 1933 L1602 1933 Z" fill="#98a6bb"/><rect x="1603" y="1925" width="18" height="3" fill="#5c7090"/>
<ellipse cx="1418" cy="1824" rx="33.5" ry="4" fill="#98a6bb"/>
<path d="M1394.5 1826 L1412 1843 M1441.5 1826 L1424 1843" stroke="#98a6bb" stroke-width="3.5"/>
<rect x="1411" y="1841" width="14" height="6" fill="#98a6bb"/>
<rect x="1413" y="1826" width="10" height="71" fill="#98a6bb"/>
<rect x="1413" y="1847" width="10" height="5" fill="#5c7090"/>
<rect x="1413" y="1885" width="10" height="5" fill="#5c7090"/>
<path d="M1396.0 1891 L1440.0 1891 L1444.0 1899 L1392.0 1899 Z" fill="#98a6bb"/>
<rect x="1392.0" y="1896" width="52" height="3" fill="#5c7090"/>
<path d="M1611 1941 Q1620 1955 1620 1960 Q1620 1968.5 1611 1968.5 Q1602 1968.5 1602 1960 Q1602 1955 1611 1941 Z" fill="#a66a39"/>
<path d="M1596 1988 L1634 1988 L1619 2008 L1619 2014 L1611 2014 L1611 2008 Z" fill="#3e4d6b"/>
<path d="M1588 1982 Q1615 1978 1642 1982 L1642 1987 Q1615 1991 1588 1987 Z" fill="#3e4d6b"/>
<path d="M1589 1987.5 Q1615 1991 1641 1987.5" fill="none" stroke="#1b2231" stroke-width="3"/>
<path d="M1534.9 2140.0 L1697.1 2140.0 L1697.1 2165.0 L1657.6 2165.0 Q1616.0 2151.0 1574.4 2165.0 L1534.9 2165.0 Z" fill="#a66a39"/>
<rect x="1532.8" y="2148.0" width="6" height="11" fill="#6e2a17"/><rect x="1692.1" y="2148.0" width="6" height="11" fill="#6e2a17"/>
<path d="M1539.0 2142.0 L1564.0 2142.0 L1557.8 2185.0 L1535.9 2185.0 Z" fill="#a66a39"/>
<path d="M1663.8 2142.0 L1688.8 2142.0 L1696.1 2185.0 L1674.2 2185.0 Z" fill="#a66a39"/>
<path d="M1560.9 2152.0 L1557.8 2175.0 M1665.9 2152.0 L1670.1 2175.0 M1535.9 2183.5 L1557.8 2183.5 M1674.2 2183.5 L1696.1 2183.5" stroke="#6e2a17" stroke-width="3"/>
<path d="M1528.6 2028.7 Q1616.0 2001.3 1710.0 2028.0 C1723.3 2056.1 1723.3 2110.9 1710.0 2139.0 Q1616.0 2165.7 1528.6 2138.3 C1506.5 2110.9 1506.5 2056.1 1528.6 2028.7 Z" fill="#a66a39"/>
<path d="M1532.8 2028.7 Q1513.0 2083.5 1532.8 2138.3" fill="none" stroke="#6e2a17" stroke-width="3.5"/>
<path d="M1705.9 2028.0 Q1719.0 2083.5 1705.9 2139.0" fill="none" stroke="#6e2a17" stroke-width="3.5"/>
<path d="M1538.8 2051.2 Q1536.6 2051.5 1534.5 2051.9" fill="none" stroke="#6e2a17" stroke-width="3.5"/>
<path d="M1538.8 2074.3 Q1536.6 2074.4 1534.5 2074.5" fill="none" stroke="#6e2a17" stroke-width="3.5"/>
<path d="M1538.8 2095.0 Q1536.6 2094.9 1534.5 2094.8" fill="none" stroke="#6e2a17" stroke-width="3.5"/>
<path d="M1538.8 2115.8 Q1536.6 2115.5 1534.5 2115.1" fill="none" stroke="#6e2a17" stroke-width="3.5"/>
<path d="M1546.5 2050.1 Q1560.3 2048.2 1574.0 2047.0" fill="none" stroke="#6e2a17" stroke-width="3.5"/>
<path d="M1546.5 2074.0 Q1560.3 2073.4 1574.0 2073.1" fill="none" stroke="#6e2a17" stroke-width="3.5"/>
<path d="M1546.5 2095.4 Q1560.3 2096.1 1574.0 2096.5" fill="none" stroke="#6e2a17" stroke-width="3.5"/>
<path d="M1546.5 2116.9 Q1560.3 2118.8 1574.0 2120.0" fill="none" stroke="#6e2a17" stroke-width="3.5"/>
<path d="M1586.0 2046.1 Q1619.2 2044.0 1652.4 2046.0" fill="none" stroke="#6e2a17" stroke-width="3.5"/>
<path d="M1586.0 2072.8 Q1619.2 2072.2 1652.4 2072.8" fill="none" stroke="#6e2a17" stroke-width="3.5"/>
<path d="M1586.0 2096.8 Q1619.2 2097.6 1652.4 2096.9" fill="none" stroke="#6e2a17" stroke-width="3.5"/>
<path d="M1586.0 2120.9 Q1619.2 2123.0 1652.4 2121.0" fill="none" stroke="#6e2a17" stroke-width="3.5"/>
<path d="M1664.4 2046.8 Q1680.6 2048.1 1696.7 2050.4" fill="none" stroke="#6e2a17" stroke-width="3.5"/>
<path d="M1664.4 2073.0 Q1680.6 2073.4 1696.7 2074.0" fill="none" stroke="#6e2a17" stroke-width="3.5"/>
<path d="M1664.4 2096.6 Q1680.6 2096.1 1696.7 2095.3" fill="none" stroke="#6e2a17" stroke-width="3.5"/>
<path d="M1664.4 2120.2 Q1680.6 2118.9 1696.7 2116.6" fill="none" stroke="#6e2a17" stroke-width="3.5"/>
<path d="M1708.7 2052.2 Q1704.3 2051.5 1699.9 2050.8" fill="none" stroke="#6e2a17" stroke-width="3.5"/>
<path d="M1708.7 2074.6 Q1704.3 2074.4 1699.9 2074.2" fill="none" stroke="#6e2a17" stroke-width="3.5"/>
<path d="M1708.7 2094.7 Q1704.3 2094.9 1699.9 2095.2" fill="none" stroke="#6e2a17" stroke-width="3.5"/>
<path d="M1708.7 2114.8 Q1704.3 2115.5 1699.9 2116.2" fill="none" stroke="#6e2a17" stroke-width="3.5"/>
<path d="M1552.2 2026.3 Q1547.7 2083.5 1546.8 2140.7" fill="none" stroke="#6e2a17" stroke-width="3.5"/>
<path d="M1543.2 2025.3 Q1538.7 2083.5 1537.8 2141.7" fill="none" stroke="#e2b863" stroke-width="12"/>
<path d="M1590.3 2018.5 Q1588.2 2083.5 1587.7 2148.5" fill="none" stroke="#6e2a17" stroke-width="3.5"/>
<path d="M1581.3 2017.5 Q1579.2 2083.5 1578.7 2149.5" fill="none" stroke="#e2b863" stroke-width="12"/>
<path d="M1665.9 2018.2 Q1668.5 2083.5 1669.0 2148.8" fill="none" stroke="#6e2a17" stroke-width="3.5"/>
<path d="M1656.9 2017.2 Q1659.5 2083.5 1660.0 2149.8" fill="none" stroke="#e2b863" stroke-width="12"/>
<path d="M1708.6 2027.0 Q1713.8 2083.5 1714.9 2140.0" fill="none" stroke="#6e2a17" stroke-width="3.5"/>
<path d="M1699.6 2026.0 Q1704.8 2083.5 1705.9 2141.0" fill="none" stroke="#e2b863" stroke-width="12"/>
<path d="M1597.3 2023.7 L1636.8 2023.3 M1553.6 2031.2 L1564.0 2028.1" stroke="#e0a851" stroke-width="4" stroke-linecap="round"/>
<path d="M1898 2185 L1898 1884 Q2072 1825 2245 1884 L2245 2185 Z" fill="#3e4d6b"/>
<defs><clipPath id="door"><path d="M1898 2185 L1898 1884 Q2072 1825 2245 1884 L2245 2185 Z"/></clipPath></defs>
<g clip-path="url(#door)">
<path d="M1938.6 1931.7 Q2029.8 1898.3 2124.2 1930.8 C2130.6 1950.7 2130.6 1998.3 2124.2 2018.2 Q2029.8 2050.7 1938.6 2017.3 C1928.1 1998.3 1928.1 1950.7 1938.6 1931.7 Z" fill="#a66a39"/>
<path d="M1942.6 1931.7 Q1931.7 1974.5 1942.6 2017.3" fill="none" stroke="#6e2a17" stroke-width="3.5"/>
<path d="M2120.3 1930.8 Q2128.0 1974.5 2120.3 2018.2" fill="none" stroke="#6e2a17" stroke-width="3.5"/>
<path d="M1948.6 1953.2 Q1949.5 1953.1 1950.5 1953.0" fill="none" stroke="#6e2a17" stroke-width="3.5"/>
<path d="M1948.6 1974.5 Q1949.5 1974.5 1950.5 1974.5" fill="none" stroke="#6e2a17" stroke-width="3.5"/>
<path d="M1948.6 1995.8 Q1949.5 1995.9 1950.5 1996.0" fill="none" stroke="#6e2a17" stroke-width="3.5"/>
<path d="M1962.5 1951.4 Q1976.8 1949.6 1991.1 1948.5" fill="none" stroke="#6e2a17" stroke-width="3.5"/>
<path d="M1962.5 1974.5 Q1976.8 1974.5 1991.1 1974.5" fill="none" stroke="#6e2a17" stroke-width="3.5"/>
<path d="M1962.5 1997.6 Q1976.8 1999.4 1991.1 2000.5" fill="none" stroke="#6e2a17" stroke-width="3.5"/>
<path d="M2003.1 1947.8 Q2035.3 1946.1 2067.5 1948.1" fill="none" stroke="#6e2a17" stroke-width="3.5"/>
<path d="M2003.1 1974.5 Q2035.3 1974.5 2067.5 1974.5" fill="none" stroke="#6e2a17" stroke-width="3.5"/>
<path d="M2003.1 2001.2 Q2035.3 2002.9 2067.5 2000.9" fill="none" stroke="#6e2a17" stroke-width="3.5"/>
<path d="M2079.5 1949.0 Q2093.3 1950.1 2107.1 1951.9" fill="none" stroke="#6e2a17" stroke-width="3.5"/>
<path d="M2079.5 1974.5 Q2093.3 1974.5 2107.1 1974.5" fill="none" stroke="#6e2a17" stroke-width="3.5"/>
<path d="M2079.5 2000.0 Q2093.3 1998.9 2107.1 1997.1" fill="none" stroke="#6e2a17" stroke-width="3.5"/>
<path d="M2119.1 1953.6 Q2116.7 1953.2 2114.3 1952.9" fill="none" stroke="#6e2a17" stroke-width="3.5"/>
<path d="M2119.1 1974.5 Q2116.7 1974.5 2114.3 1974.5" fill="none" stroke="#6e2a17" stroke-width="3.5"/>
<path d="M2119.1 1995.4 Q2116.7 1995.8 2114.3 1996.1" fill="none" stroke="#6e2a17" stroke-width="3.5"/>
<path d="M1968.1 1926.9 Q1963.7 1974.5 1962.8 2022.1" fill="none" stroke="#6e2a17" stroke-width="3.5"/>
<path d="M1959.1 1925.9 Q1954.7 1974.5 1953.8 2023.1" fill="none" stroke="#e2b863" stroke-width="12"/>
<path d="M2007.3 1918.2 Q2005.3 1974.5 2005.0 2030.8" fill="none" stroke="#6e2a17" stroke-width="3.5"/>
<path d="M1998.3 1917.2 Q1996.3 1974.5 1996.0 2031.8" fill="none" stroke="#e2b863" stroke-width="12"/>
<path d="M2080.9 1919.0 Q2083.5 1974.5 2084.0 2030.0" fill="none" stroke="#6e2a17" stroke-width="3.5"/>
<path d="M2071.9 1918.0 Q2074.5 1974.5 2075.0 2031.0" fill="none" stroke="#e2b863" stroke-width="12"/>
<path d="M2119.1 1928.2 Q2124.1 1974.5 2125.1 2020.8" fill="none" stroke="#6e2a17" stroke-width="3.5"/>
<path d="M2110.1 1927.2 Q2115.1 1974.5 2116.1 2021.8" fill="none" stroke="#e2b863" stroke-width="12"/>
<path d="M2012.0 1923.6 L2049.7 1923.3 M1970.4 1931.2 L1980.3 1928.0" stroke="#e0a851" stroke-width="4" stroke-linecap="round"/>
<path d="M2157.6 1931.7 Q2248.8 1898.3 2343.2 1930.8 C2349.6 1950.7 2349.6 1998.3 2343.2 2018.2 Q2248.8 2050.7 2157.6 2017.3 C2147.1 1998.3 2147.1 1950.7 2157.6 1931.7 Z" fill="#a66a39"/>
<path d="M2161.6 1931.7 Q2150.7 1974.5 2161.6 2017.3" fill="none" stroke="#6e2a17" stroke-width="3.5"/>
<path d="M2339.3 1930.8 Q2347.0 1974.5 2339.3 2018.2" fill="none" stroke="#6e2a17" stroke-width="3.5"/>
<path d="M2167.6 1953.2 Q2168.5 1953.1 2169.5 1953.0" fill="none" stroke="#6e2a17" stroke-width="3.5"/>
<path d="M2167.6 1974.5 Q2168.5 1974.5 2169.5 1974.5" fill="none" stroke="#6e2a17" stroke-width="3.5"/>
<path d="M2167.6 1995.8 Q2168.5 1995.9 2169.5 1996.0" fill="none" stroke="#6e2a17" stroke-width="3.5"/>
<path d="M2181.5 1951.4 Q2195.8 1949.6 2210.1 1948.5" fill="none" stroke="#6e2a17" stroke-width="3.5"/>
<path d="M2181.5 1974.5 Q2195.8 1974.5 2210.1 1974.5" fill="none" stroke="#6e2a17" stroke-width="3.5"/>
<path d="M2181.5 1997.6 Q2195.8 1999.4 2210.1 2000.5" fill="none" stroke="#6e2a17" stroke-width="3.5"/>
<path d="M2222.1 1947.8 Q2254.3 1946.1 2286.5 1948.1" fill="none" stroke="#6e2a17" stroke-width="3.5"/>
<path d="M2222.1 1974.5 Q2254.3 1974.5 2286.5 1974.5" fill="none" stroke="#6e2a17" stroke-width="3.5"/>
<path d="M2222.1 2001.2 Q2254.3 2002.9 2286.5 2000.9" fill="none" stroke="#6e2a17" stroke-width="3.5"/>
<path d="M2298.5 1949.0 Q2312.3 1950.1 2326.1 1951.9" fill="none" stroke="#6e2a17" stroke-width="3.5"/>
<path d="M2298.5 1974.5 Q2312.3 1974.5 2326.1 1974.5" fill="none" stroke="#6e2a17" stroke-width="3.5"/>
<path d="M2298.5 2000.0 Q2312.3 1998.9 2326.1 1997.1" fill="none" stroke="#6e2a17" stroke-width="3.5"/>
<path d="M2338.1 1953.6 Q2335.7 1953.2 2333.3 1952.9" fill="none" stroke="#6e2a17" stroke-width="3.5"/>
<path d="M2338.1 1974.5 Q2335.7 1974.5 2333.3 1974.5" fill="none" stroke="#6e2a17" stroke-width="3.5"/>
<path d="M2338.1 1995.4 Q2335.7 1995.8 2333.3 1996.1" fill="none" stroke="#6e2a17" stroke-width="3.5"/>
<path d="M2187.1 1926.9 Q2182.7 1974.5 2181.8 2022.1" fill="none" stroke="#6e2a17" stroke-width="3.5"/>
<path d="M2178.1 1925.9 Q2173.7 1974.5 2172.8 2023.1" fill="none" stroke="#e2b863" stroke-width="12"/>
<path d="M2226.3 1918.2 Q2224.3 1974.5 2224.0 2030.8" fill="none" stroke="#6e2a17" stroke-width="3.5"/>
<path d="M2217.3 1917.2 Q2215.3 1974.5 2215.0 2031.8" fill="none" stroke="#e2b863" stroke-width="12"/>
<path d="M2299.9 1919.0 Q2302.5 1974.5 2303.0 2030.0" fill="none" stroke="#6e2a17" stroke-width="3.5"/>
<path d="M2290.9 1918.0 Q2293.5 1974.5 2294.0 2031.0" fill="none" stroke="#e2b863" stroke-width="12"/>
<path d="M2338.1 1928.2 Q2343.1 1974.5 2344.1 2020.8" fill="none" stroke="#6e2a17" stroke-width="3.5"/>
<path d="M2329.1 1927.2 Q2334.1 1974.5 2335.1 2021.8" fill="none" stroke="#e2b863" stroke-width="12"/>
<path d="M2231.0 1923.6 L2268.7 1923.3 M2189.4 1931.2 L2199.3 1928.0" stroke="#e0a851" stroke-width="4" stroke-linecap="round"/>
<path d="M1951.0 2145.0 L2114.0 2145.0 L2114.0 2170.0 L2074.3 2170.0 Q2032.5 2156.0 1990.7 2170.0 L1951.0 2170.0 Z" fill="#a66a39"/>
<rect x="1948.9" y="2153.0" width="6" height="11" fill="#6e2a17"/><rect x="2109.0" y="2153.0" width="6" height="11" fill="#6e2a17"/>
<path d="M1955.2 2147.0 L1980.2 2147.0 L1974.0 2185.0 L1952.0 2185.0 Z" fill="#a66a39"/>
<path d="M2080.6 2147.0 L2105.7 2147.0 L2113.0 2185.0 L2091.0 2185.0 Z" fill="#a66a39"/>
<path d="M1977.1 2157.0 L1974.0 2175.0 M2082.7 2157.0 L2086.8 2175.0 M1952.0 2183.5 L1974.0 2183.5 M2091.0 2183.5 L2113.0 2183.5" stroke="#6e2a17" stroke-width="3"/>
<path d="M1936.4 2028.8 Q2032.5 2000.4 2132.0 2028.1 C2138.7 2057.3 2138.7 2114.3 2132.0 2143.5 Q2032.5 2171.2 1936.4 2142.8 C1925.2 2114.3 1925.2 2057.3 1936.4 2028.8 Z" fill="#a66a39"/>
<path d="M1940.5 2028.8 Q1929.0 2085.8 1940.5 2142.8" fill="none" stroke="#6e2a17" stroke-width="3.5"/>
<path d="M2127.8 2028.1 Q2136.0 2085.8 2127.8 2143.5" fill="none" stroke="#6e2a17" stroke-width="3.5"/>
<path d="M1946.5 2052.3 Q1946.8 2052.3 1947.1 2052.2" fill="none" stroke="#6e2a17" stroke-width="3.5"/>
<path d="M1946.5 2076.2 Q1946.8 2076.2 1947.1 2076.2" fill="none" stroke="#6e2a17" stroke-width="3.5"/>
<path d="M1946.5 2097.8 Q1946.8 2097.8 1947.1 2097.8" fill="none" stroke="#6e2a17" stroke-width="3.5"/>
<path d="M1946.5 2119.3 Q1946.8 2119.3 1947.1 2119.4" fill="none" stroke="#6e2a17" stroke-width="3.5"/>
<path d="M1959.1 2050.6 Q1974.0 2048.8 1988.9 2047.6" fill="none" stroke="#6e2a17" stroke-width="3.5"/>
<path d="M1959.1 2075.7 Q1974.0 2075.2 1988.9 2074.9" fill="none" stroke="#6e2a17" stroke-width="3.5"/>
<path d="M1959.1 2098.4 Q1974.0 2099.0 1988.9 2099.4" fill="none" stroke="#6e2a17" stroke-width="3.5"/>
<path d="M1959.1 2121.0 Q1974.0 2122.8 1988.9 2124.0" fill="none" stroke="#6e2a17" stroke-width="3.5"/>
<path d="M2000.9 2046.8 Q2035.6 2044.8 2070.4 2046.8" fill="none" stroke="#6e2a17" stroke-width="3.5"/>
<path d="M2000.9 2074.7 Q2035.6 2074.1 2070.4 2074.7" fill="none" stroke="#6e2a17" stroke-width="3.5"/>
<path d="M2000.9 2099.7 Q2035.6 2100.4 2070.4 2099.7" fill="none" stroke="#6e2a17" stroke-width="3.5"/>
<path d="M2000.9 2124.8 Q2035.6 2126.8 2070.4 2124.8" fill="none" stroke="#6e2a17" stroke-width="3.5"/>
<path d="M2082.4 2047.6 Q2097.8 2048.8 2113.2 2050.8" fill="none" stroke="#6e2a17" stroke-width="3.5"/>
<path d="M2082.4 2074.9 Q2097.8 2075.2 2113.2 2075.8" fill="none" stroke="#6e2a17" stroke-width="3.5"/>
<path d="M2082.4 2099.4 Q2097.8 2099.0 2113.2 2098.3" fill="none" stroke="#6e2a17" stroke-width="3.5"/>
<path d="M2082.4 2124.0 Q2097.8 2122.8 2113.2 2120.8" fill="none" stroke="#6e2a17" stroke-width="3.5"/>
<path d="M2125.2 2052.5 Q2123.5 2052.2 2121.8 2052.0" fill="none" stroke="#6e2a17" stroke-width="3.5"/>
<path d="M2125.2 2076.3 Q2123.5 2076.2 2121.8 2076.1" fill="none" stroke="#6e2a17" stroke-width="3.5"/>
<path d="M2125.2 2097.7 Q2123.5 2097.8 2121.8 2097.9" fill="none" stroke="#6e2a17" stroke-width="3.5"/>
<path d="M2125.2 2119.1 Q2123.5 2119.4 2121.8 2119.6" fill="none" stroke="#6e2a17" stroke-width="3.5"/>
<path d="M1964.9 2025.4 Q1960.2 2085.8 1959.2 2146.2" fill="none" stroke="#6e2a17" stroke-width="3.5"/>
<path d="M1955.9 2024.4 Q1951.2 2085.8 1950.2 2147.2" fill="none" stroke="#e2b863" stroke-width="12"/>
<path d="M2005.2 2017.8 Q2003.0 2085.8 2002.5 2153.8" fill="none" stroke="#6e2a17" stroke-width="3.5"/>
<path d="M1996.2 2016.8 Q1994.0 2085.8 1993.5 2154.8" fill="none" stroke="#e2b863" stroke-width="12"/>
<path d="M2083.8 2017.9 Q2086.4 2085.8 2087.0 2153.7" fill="none" stroke="#6e2a17" stroke-width="3.5"/>
<path d="M2074.8 2016.9 Q2077.4 2085.8 2078.0 2154.7" fill="none" stroke="#e2b863" stroke-width="12"/>
<path d="M2125.1 2025.7 Q2130.3 2085.8 2131.4 2145.9" fill="none" stroke="#6e2a17" stroke-width="3.5"/>
<path d="M2116.1 2024.7 Q2121.3 2085.8 2122.4 2146.9" fill="none" stroke="#e2b863" stroke-width="12"/>
<path d="M2013.7 2023.1 L2053.4 2022.9 M1969.8 2029.7 L1980.2 2026.9" stroke="#e0a851" stroke-width="4" stroke-linecap="round"/>
<path d="M2170.0 2145.0 L2333.0 2145.0 L2333.0 2170.0 L2293.3 2170.0 Q2251.5 2156.0 2209.7 2170.0 L2170.0 2170.0 Z" fill="#a66a39"/>
<rect x="2167.9" y="2153.0" width="6" height="11" fill="#6e2a17"/><rect x="2328.0" y="2153.0" width="6" height="11" fill="#6e2a17"/>
<path d="M2174.2 2147.0 L2199.2 2147.0 L2193.0 2185.0 L2171.0 2185.0 Z" fill="#a66a39"/>
<path d="M2299.6 2147.0 L2324.7 2147.0 L2332.0 2185.0 L2310.0 2185.0 Z" fill="#a66a39"/>
<path d="M2196.1 2157.0 L2193.0 2175.0 M2301.7 2157.0 L2305.8 2175.0 M2171.0 2183.5 L2193.0 2183.5 M2310.0 2183.5 L2332.0 2183.5" stroke="#6e2a17" stroke-width="3"/>
<path d="M2155.4 2028.8 Q2251.5 2000.4 2351.0 2028.1 C2357.7 2057.3 2357.7 2114.3 2351.0 2143.5 Q2251.5 2171.2 2155.4 2142.8 C2144.2 2114.3 2144.2 2057.3 2155.4 2028.8 Z" fill="#a66a39"/>
<path d="M2159.5 2028.8 Q2148.0 2085.8 2159.5 2142.8" fill="none" stroke="#6e2a17" stroke-width="3.5"/>
<path d="M2346.8 2028.1 Q2355.0 2085.8 2346.8 2143.5" fill="none" stroke="#6e2a17" stroke-width="3.5"/>
<path d="M2165.5 2052.3 Q2165.8 2052.3 2166.1 2052.2" fill="none" stroke="#6e2a17" stroke-width="3.5"/>
<path d="M2165.5 2076.2 Q2165.8 2076.2 2166.1 2076.2" fill="none" stroke="#6e2a17" stroke-width="3.5"/>
<path d="M2165.5 2097.8 Q2165.8 2097.8 2166.1 2097.8" fill="none" stroke="#6e2a17" stroke-width="3.5"/>
<path d="M2165.5 2119.3 Q2165.8 2119.3 2166.1 2119.4" fill="none" stroke="#6e2a17" stroke-width="3.5"/>
<path d="M2178.1 2050.6 Q2193.0 2048.8 2207.9 2047.6" fill="none" stroke="#6e2a17" stroke-width="3.5"/>
<path d="M2178.1 2075.7 Q2193.0 2075.2 2207.9 2074.9" fill="none" stroke="#6e2a17" stroke-width="3.5"/>
<path d="M2178.1 2098.4 Q2193.0 2099.0 2207.9 2099.4" fill="none" stroke="#6e2a17" stroke-width="3.5"/>
<path d="M2178.1 2121.0 Q2193.0 2122.8 2207.9 2124.0" fill="none" stroke="#6e2a17" stroke-width="3.5"/>
<path d="M2219.9 2046.8 Q2254.6 2044.8 2289.4 2046.8" fill="none" stroke="#6e2a17" stroke-width="3.5"/>
<path d="M2219.9 2074.7 Q2254.6 2074.1 2289.4 2074.7" fill="none" stroke="#6e2a17" stroke-width="3.5"/>
<path d="M2219.9 2099.7 Q2254.6 2100.4 2289.4 2099.7" fill="none" stroke="#6e2a17" stroke-width="3.5"/>
<path d="M2219.9 2124.8 Q2254.6 2126.8 2289.4 2124.8" fill="none" stroke="#6e2a17" stroke-width="3.5"/>
<path d="M2301.4 2047.6 Q2316.8 2048.8 2332.2 2050.8" fill="none" stroke="#6e2a17" stroke-width="3.5"/>
<path d="M2301.4 2074.9 Q2316.8 2075.2 2332.2 2075.8" fill="none" stroke="#6e2a17" stroke-width="3.5"/>
<path d="M2301.4 2099.4 Q2316.8 2099.0 2332.2 2098.3" fill="none" stroke="#6e2a17" stroke-width="3.5"/>
<path d="M2301.4 2124.0 Q2316.8 2122.8 2332.2 2120.8" fill="none" stroke="#6e2a17" stroke-width="3.5"/>
<path d="M2344.2 2052.5 Q2342.5 2052.2 2340.8 2052.0" fill="none" stroke="#6e2a17" stroke-width="3.5"/>
<path d="M2344.2 2076.3 Q2342.5 2076.2 2340.8 2076.1" fill="none" stroke="#6e2a17" stroke-width="3.5"/>
<path d="M2344.2 2097.7 Q2342.5 2097.8 2340.8 2097.9" fill="none" stroke="#6e2a17" stroke-width="3.5"/>
<path d="M2344.2 2119.1 Q2342.5 2119.4 2340.8 2119.6" fill="none" stroke="#6e2a17" stroke-width="3.5"/>
<path d="M2183.9 2025.4 Q2179.2 2085.8 2178.2 2146.2" fill="none" stroke="#6e2a17" stroke-width="3.5"/>
<path d="M2174.9 2024.4 Q2170.2 2085.8 2169.2 2147.2" fill="none" stroke="#e2b863" stroke-width="12"/>
<path d="M2224.2 2017.8 Q2222.0 2085.8 2221.5 2153.8" fill="none" stroke="#6e2a17" stroke-width="3.5"/>
<path d="M2215.2 2016.8 Q2213.0 2085.8 2212.5 2154.8" fill="none" stroke="#e2b863" stroke-width="12"/>
<path d="M2302.8 2017.9 Q2305.4 2085.8 2306.0 2153.7" fill="none" stroke="#6e2a17" stroke-width="3.5"/>
<path d="M2293.8 2016.9 Q2296.4 2085.8 2297.0 2154.7" fill="none" stroke="#e2b863" stroke-width="12"/>
<path d="M2344.1 2025.7 Q2349.3 2085.8 2350.4 2145.9" fill="none" stroke="#6e2a17" stroke-width="3.5"/>
<path d="M2335.1 2024.7 Q2340.3 2085.8 2341.4 2146.9" fill="none" stroke="#e2b863" stroke-width="12"/>
<path d="M2232.7 2023.1 L2272.4 2022.9 M2188.8 2029.7 L2199.2 2026.9" stroke="#e0a851" stroke-width="4" stroke-linecap="round"/>
</g>
<path d="M1826.5 1824.8 Q2072 1692.4 2317.6 1824.8 L2277 1896 Q2279 2040 2277 2185 L2245 2185 L2245 1884 Q2072 1825 1898 1884 L1898 2185 L1866 2185 Q1864 2040 1866 1896 Z" fill="#d9cfd3"/>
<path d="M1853.5 1811.0 L1903.3 1882.0" stroke="#bbabae" stroke-width="3"/>
<path d="M1890.3 1794.9 L1931.7 1873.3" stroke="#bbabae" stroke-width="3"/>
<path d="M1924.7 1782.4 L1958.2 1866.5" stroke="#bbabae" stroke-width="3"/>
<path d="M1964.0 1771.4 L1988.5 1860.5" stroke="#bbabae" stroke-width="3"/>
<path d="M2008.2 1763.1 L2022.6 1856.0" stroke="#bbabae" stroke-width="3"/>
<path d="M2049.9 1759.1 L2054.7 1853.9" stroke="#bbabae" stroke-width="3"/>
<path d="M2089.2 1758.9 L2085.0 1853.8" stroke="#bbabae" stroke-width="3"/>
<path d="M2131.0 1762.4 L2117.1 1855.7" stroke="#bbabae" stroke-width="3"/>
<path d="M2177.6 1770.8 L2153.0 1860.2" stroke="#bbabae" stroke-width="3"/>
<path d="M2216.9 1781.6 L2183.2 1866.1" stroke="#bbabae" stroke-width="3"/>
<path d="M2248.8 1792.9 L2207.8 1872.2" stroke="#bbabae" stroke-width="3"/>
<path d="M2285.7 1808.7 L2236.1 1880.8" stroke="#bbabae" stroke-width="3"/>
<path d="M1866 1896 Q1880 1888 1898 1884 M2245 1884 Q2263 1888 2277 1896" fill="none" stroke="#bbabae" stroke-width="3"/>
<path d="M1866 1921 Q1882 1919 1898 1921 M2245 1921 Q2261 1919 2277 1921" fill="none" stroke="#bbabae" stroke-width="3"/>
<path d="M1866 1956 Q1882 1954 1898 1956 M2245 1956 Q2261 1954 2277 1956" fill="none" stroke="#bbabae" stroke-width="3"/>
<path d="M1866 1991 Q1882 1989 1898 1991 M2245 1991 Q2261 1989 2277 1991" fill="none" stroke="#bbabae" stroke-width="3"/>
<path d="M1866 2022 Q1882 2020 1898 2022 M2245 2022 Q2261 2020 2277 2022" fill="none" stroke="#bbabae" stroke-width="3"/>
<path d="M1866 2054 Q1882 2052 1898 2054 M2245 2054 Q2261 2052 2277 2054" fill="none" stroke="#bbabae" stroke-width="3"/>
<path d="M1866 2083 Q1882 2081 1898 2083 M2245 2083 Q2261 2081 2277 2083" fill="none" stroke="#bbabae" stroke-width="3"/>
<path d="M1866 2113.5 Q1882 2111.5 1898 2113.5 M2245 2113.5 Q2261 2111.5 2277 2113.5" fill="none" stroke="#bbabae" stroke-width="3"/>
<path d="M1866 2140.6 Q1882 2138.6 1898 2140.6 M2245 2140.6 Q2261 2138.6 2277 2140.6" fill="none" stroke="#bbabae" stroke-width="3"/>
<path d="M1866 2163 Q1882 2161 1898 2163 M2245 2163 Q2261 2161 2277 2163" fill="none" stroke="#bbabae" stroke-width="3"/>
<text transform="translate(1913.7 1831.0) rotate(-16.2)" x="0" y="21" font-size="58" font-weight="bold" text-anchor="middle" fill="#ebe6e8" stroke="#bbabae" stroke-width="8" stroke-linejoin="round">S</text>
<text transform="translate(1913.7 1831.0) rotate(-16.2)" x="0" y="21" font-size="58" font-weight="bold" text-anchor="middle" fill="#ebe6e8" stroke="#ebe6e8" stroke-width="1.5" stroke-linejoin="round">S</text>
<text transform="translate(1950.7 1819.0) rotate(-12.6)" x="0" y="21" font-size="58" font-weight="bold" text-anchor="middle" fill="#ebe6e8" stroke="#bbabae" stroke-width="8" stroke-linejoin="round">I</text>
<text transform="translate(1950.7 1819.0) rotate(-12.6)" x="0" y="21" font-size="58" font-weight="bold" text-anchor="middle" fill="#ebe6e8" stroke="#ebe6e8" stroke-width="1.5" stroke-linejoin="round">I</text>
<text transform="translate(1984.0 1810.0) rotate(-9.2)" x="0" y="21" font-size="58" font-weight="bold" text-anchor="middle" fill="#ebe6e8" stroke="#bbabae" stroke-width="8" stroke-linejoin="round">N</text>
<text transform="translate(1984.0 1810.0) rotate(-9.2)" x="0" y="21" font-size="58" font-weight="bold" text-anchor="middle" fill="#ebe6e8" stroke="#ebe6e8" stroke-width="1.5" stroke-linejoin="round">N</text>
<text transform="translate(2026.0 1804.7) rotate(-4.9)" x="0" y="21" font-size="58" font-weight="bold" text-anchor="middle" fill="#ebe6e8" stroke="#bbabae" stroke-width="8" stroke-linejoin="round">C</text>
<text transform="translate(2026.0 1804.7) rotate(-4.9)" x="0" y="21" font-size="58" font-weight="bold" text-anchor="middle" fill="#ebe6e8" stroke="#ebe6e8" stroke-width="1.5" stroke-linejoin="round">C</text>
<text transform="translate(2067.0 1804.7) rotate(-0.6)" x="0" y="21" font-size="58" font-weight="bold" text-anchor="middle" fill="#ebe6e8" stroke="#bbabae" stroke-width="8" stroke-linejoin="round">E</text>
<text transform="translate(2067.0 1804.7) rotate(-0.6)" x="0" y="21" font-size="58" font-weight="bold" text-anchor="middle" fill="#ebe6e8" stroke="#ebe6e8" stroke-width="1.5" stroke-linejoin="round">E</text>
<text transform="translate(2117.0 1806.0) rotate(4.7)" x="0" y="21" font-size="58" font-weight="bold" text-anchor="middle" fill="#ebe6e8" stroke="#bbabae" stroke-width="8" stroke-linejoin="round">1</text>
<text transform="translate(2117.0 1806.0) rotate(4.7)" x="0" y="21" font-size="58" font-weight="bold" text-anchor="middle" fill="#ebe6e8" stroke="#ebe6e8" stroke-width="1.5" stroke-linejoin="round">1</text>
<text transform="translate(2152.6 1811.0) rotate(8.3)" x="0" y="21" font-size="58" font-weight="bold" text-anchor="middle" fill="#ebe6e8" stroke="#bbabae" stroke-width="8" stroke-linejoin="round">7</text>
<text transform="translate(2152.6 1811.0) rotate(8.3)" x="0" y="21" font-size="58" font-weight="bold" text-anchor="middle" fill="#ebe6e8" stroke="#ebe6e8" stroke-width="1.5" stroke-linejoin="round">7</text>
<text transform="translate(2191.4 1820.5) rotate(12.3)" x="0" y="21" font-size="58" font-weight="bold" text-anchor="middle" fill="#ebe6e8" stroke="#bbabae" stroke-width="8" stroke-linejoin="round">8</text>
<text transform="translate(2191.4 1820.5) rotate(12.3)" x="0" y="21" font-size="58" font-weight="bold" text-anchor="middle" fill="#ebe6e8" stroke="#ebe6e8" stroke-width="1.5" stroke-linejoin="round">8</text>
<text transform="translate(2231.8 1831.0) rotate(16.2)" x="0" y="21" font-size="58" font-weight="bold" text-anchor="middle" fill="#ebe6e8" stroke="#bbabae" stroke-width="8" stroke-linejoin="round">5</text>
<text transform="translate(2231.8 1831.0) rotate(16.2)" x="0" y="21" font-size="58" font-weight="bold" text-anchor="middle" fill="#ebe6e8" stroke="#ebe6e8" stroke-width="1.5" stroke-linejoin="round">5</text>
</svg></body></html>
